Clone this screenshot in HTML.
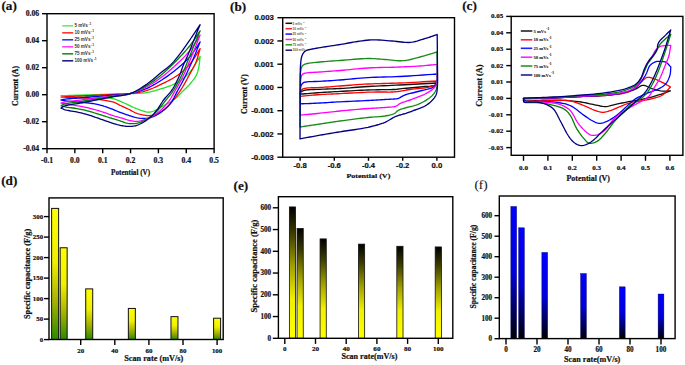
<!DOCTYPE html><html><head><meta charset="utf-8"><style>html,body{margin:0;padding:0;background:#fff;}svg{display:block;}</style></head><body>
<svg width="685" height="365" viewBox="0 0 685 365">
<defs><linearGradient id="gd" x1="0" y1="0" x2="0" y2="1"><stop offset="0" stop-color="#ffff00"/><stop offset="0.4" stop-color="#f0f000"/><stop offset="0.7" stop-color="#a8b400"/><stop offset="1" stop-color="#2a8a00"/></linearGradient><linearGradient id="ge" x1="0" y1="0" x2="0" y2="1"><stop offset="0" stop-color="#000000"/><stop offset="0.2" stop-color="#3c3c00"/><stop offset="0.45" stop-color="#a0a000"/><stop offset="0.7" stop-color="#f0f000"/><stop offset="1" stop-color="#ffff00"/></linearGradient><linearGradient id="gf" x1="0" y1="0" x2="0" y2="1"><stop offset="0" stop-color="#0000ff"/><stop offset="0.5" stop-color="#0000dd"/><stop offset="1" stop-color="#000000"/></linearGradient></defs>
<rect width="685" height="365" fill="#fff"/>
<text x="1.40" y="9.70" font-size="13.20" text-anchor="start" font-family='"Liberation Serif", serif' font-weight="bold" fill="#111" stroke="#111" stroke-width="0.20">(a)</text>
<line x1="42.00" y1="13.70" x2="47.00" y2="13.70" stroke="#000" stroke-width="1.40"/>
<text x="39.20" y="16.30" font-size="7.70" text-anchor="end" font-family='"Liberation Serif", serif' font-weight="bold" fill="#111" stroke="#111" stroke-width="0.20">0.06</text>
<line x1="42.00" y1="40.70" x2="47.00" y2="40.70" stroke="#000" stroke-width="1.40"/>
<text x="39.20" y="43.30" font-size="7.70" text-anchor="end" font-family='"Liberation Serif", serif' font-weight="bold" fill="#111" stroke="#111" stroke-width="0.20">0.04</text>
<line x1="42.00" y1="67.70" x2="47.00" y2="67.70" stroke="#000" stroke-width="1.40"/>
<text x="39.20" y="70.30" font-size="7.70" text-anchor="end" font-family='"Liberation Serif", serif' font-weight="bold" fill="#111" stroke="#111" stroke-width="0.20">0.02</text>
<line x1="42.00" y1="94.70" x2="47.00" y2="94.70" stroke="#000" stroke-width="1.40"/>
<text x="39.20" y="97.30" font-size="7.70" text-anchor="end" font-family='"Liberation Serif", serif' font-weight="bold" fill="#111" stroke="#111" stroke-width="0.20">0.00</text>
<line x1="42.00" y1="121.70" x2="47.00" y2="121.70" stroke="#000" stroke-width="1.40"/>
<text x="39.20" y="124.30" font-size="7.70" text-anchor="end" font-family='"Liberation Serif", serif' font-weight="bold" fill="#111" stroke="#111" stroke-width="0.20">-0.02</text>
<line x1="42.00" y1="148.70" x2="47.00" y2="148.70" stroke="#000" stroke-width="1.40"/>
<text x="39.20" y="151.30" font-size="7.70" text-anchor="end" font-family='"Liberation Serif", serif' font-weight="bold" fill="#111" stroke="#111" stroke-width="0.20">-0.04</text>
<line x1="47.00" y1="148.70" x2="47.00" y2="153.30" stroke="#000" stroke-width="1.40"/>
<text x="47.00" y="163.10" font-size="7.70" text-anchor="middle" font-family='"Liberation Serif", serif' font-weight="bold" fill="#111" stroke="#111" stroke-width="0.20">-0.1</text>
<line x1="74.85" y1="148.70" x2="74.85" y2="153.30" stroke="#000" stroke-width="1.40"/>
<text x="74.85" y="163.10" font-size="7.70" text-anchor="middle" font-family='"Liberation Serif", serif' font-weight="bold" fill="#111" stroke="#111" stroke-width="0.20">0.0</text>
<line x1="102.70" y1="148.70" x2="102.70" y2="153.30" stroke="#000" stroke-width="1.40"/>
<text x="102.70" y="163.10" font-size="7.70" text-anchor="middle" font-family='"Liberation Serif", serif' font-weight="bold" fill="#111" stroke="#111" stroke-width="0.20">0.1</text>
<line x1="130.55" y1="148.70" x2="130.55" y2="153.30" stroke="#000" stroke-width="1.40"/>
<text x="130.55" y="163.10" font-size="7.70" text-anchor="middle" font-family='"Liberation Serif", serif' font-weight="bold" fill="#111" stroke="#111" stroke-width="0.20">0.2</text>
<line x1="158.40" y1="148.70" x2="158.40" y2="153.30" stroke="#000" stroke-width="1.40"/>
<text x="158.40" y="163.10" font-size="7.70" text-anchor="middle" font-family='"Liberation Serif", serif' font-weight="bold" fill="#111" stroke="#111" stroke-width="0.20">0.3</text>
<line x1="186.25" y1="148.70" x2="186.25" y2="153.30" stroke="#000" stroke-width="1.40"/>
<text x="186.25" y="163.10" font-size="7.70" text-anchor="middle" font-family='"Liberation Serif", serif' font-weight="bold" fill="#111" stroke="#111" stroke-width="0.20">0.4</text>
<line x1="214.10" y1="148.70" x2="214.10" y2="153.30" stroke="#000" stroke-width="1.40"/>
<text x="214.10" y="163.10" font-size="7.70" text-anchor="middle" font-family='"Liberation Serif", serif' font-weight="bold" fill="#111" stroke="#111" stroke-width="0.20">0.5</text>
<text x="130.60" y="174.70" font-size="7.40" text-anchor="middle" font-family='"Liberation Serif", serif' font-weight="bold" fill="#111" textLength="39.00" lengthAdjust="spacingAndGlyphs" stroke="#111" stroke-width="0.20">Potential (V)</text>
<text transform="translate(17.80,86.00) rotate(-90)" x="0" y="0" font-size="7.60" text-anchor="middle" font-family='"Liberation Serif", serif' font-weight="bold" fill="#111" textLength="40.00" lengthAdjust="spacingAndGlyphs" stroke="#111" stroke-width="0.20">Current (A)</text>
<path d="M61.00,95.60 L61.36,95.60 L61.69,95.60 L62.02,95.61 L62.35,95.61 L62.70,95.61 L63.08,95.61 L63.51,95.61 L64.00,95.60 L65.39,95.57 L67.11,95.53 L69.07,95.47 L71.21,95.40 L73.44,95.33 L75.70,95.25 L77.91,95.18 L80.00,95.12 L82.00,95.05 L83.99,94.99 L85.98,94.93 L87.97,94.87 L89.96,94.81 L91.97,94.75 L93.98,94.69 L96.00,94.63 L98.10,94.57 L100.21,94.50 L102.34,94.44 L104.47,94.37 L106.60,94.31 L108.74,94.24 L110.87,94.18 L113.00,94.12 L115.13,94.05 L117.28,93.99 L119.42,93.94 L121.57,93.88 L123.70,93.82 L125.83,93.75 L127.93,93.68 L130.00,93.60 L131.92,93.53 L133.81,93.49 L135.67,93.45 L137.53,93.41 L139.38,93.33 L141.24,93.22 L143.11,93.04 L145.00,92.80 L147.03,92.46 L149.07,92.06 L151.12,91.61 L153.18,91.10 L155.25,90.55 L157.31,89.96 L159.36,89.34 L161.40,88.70 L163.51,88.02 L165.66,87.32 L167.82,86.59 L169.96,85.82 L172.07,85.00 L174.13,84.11 L176.11,83.15 L178.00,82.10 L179.68,81.05 L181.30,79.94 L182.87,78.77 L184.38,77.54 L185.84,76.25 L187.26,74.90 L188.65,73.48 L190.00,72.00 L191.41,70.28 L192.74,68.44 L194.01,66.50 L195.24,64.50 L196.45,62.46 L197.65,60.41 L198.86,58.38 L200.10,56.40 L199.97,57.60 L199.86,58.81 L199.76,60.02 L199.65,61.23 L199.53,62.43 L199.38,63.63 L199.21,64.82 L199.00,66.00 L198.77,67.15 L198.53,68.30 L198.27,69.44 L197.99,70.57 L197.67,71.69 L197.31,72.81 L196.89,73.91 L196.40,75.00 L195.78,76.18 L195.07,77.36 L194.29,78.53 L193.46,79.69 L192.60,80.83 L191.72,81.93 L190.85,82.99 L190.00,84.00 L189.28,84.83 L188.56,85.59 L187.85,86.32 L187.12,87.02 L186.38,87.73 L185.62,88.44 L184.83,89.20 L184.00,90.00 L182.89,91.12 L181.73,92.33 L180.53,93.60 L179.29,94.89 L178.02,96.17 L176.71,97.42 L175.37,98.61 L174.00,99.70 L172.58,100.70 L171.08,101.64 L169.53,102.53 L167.95,103.38 L166.39,104.20 L164.85,104.98 L163.38,105.75 L162.00,106.50 L160.97,107.09 L159.99,107.68 L159.03,108.27 L158.10,108.83 L157.19,109.36 L156.29,109.86 L155.39,110.31 L154.50,110.70 L153.76,110.99 L153.02,111.26 L152.29,111.51 L151.57,111.72 L150.85,111.90 L150.15,112.05 L149.47,112.15 L148.80,112.20 L148.27,112.21 L147.76,112.18 L147.27,112.11 L146.79,112.03 L146.31,111.92 L145.80,111.79 L145.27,111.65 L144.70,111.50 L143.79,111.25 L142.82,110.95 L141.78,110.61 L140.71,110.24 L139.62,109.84 L138.53,109.43 L137.45,109.01 L136.40,108.60 L135.37,108.17 L134.34,107.73 L133.31,107.27 L132.29,106.80 L131.27,106.32 L130.25,105.84 L129.22,105.37 L128.20,104.90 L127.17,104.43 L126.14,103.95 L125.11,103.47 L124.07,102.99 L123.04,102.52 L122.02,102.06 L121.01,101.62 L120.00,101.20 L119.10,100.83 L118.23,100.47 L117.38,100.12 L116.52,99.78 L115.65,99.45 L114.75,99.15 L113.81,98.86 L112.80,98.60 L111.39,98.30 L109.90,98.04 L108.33,97.82 L106.71,97.62 L105.05,97.45 L103.37,97.29 L101.68,97.15 L100.00,97.00 L98.18,96.85 L96.34,96.72 L94.47,96.61 L92.58,96.51 L90.68,96.43 L88.78,96.35 L86.88,96.27 L85.00,96.20 L83.10,96.13 L81.16,96.07 L79.21,96.01 L77.26,95.97 L75.35,95.92 L73.48,95.88 L71.69,95.84 L70.00,95.80 L68.77,95.77 L67.59,95.74 L66.46,95.72 L65.36,95.69 L64.27,95.67 L63.20,95.65 L62.11,95.62 L61.00,95.60Z" fill="none" stroke="#22e022" stroke-width="1.30" stroke-linejoin="round" stroke-linecap="round"/>
<path d="M61.00,97.10 L61.36,97.06 L61.69,97.03 L62.02,96.99 L62.35,96.95 L62.70,96.91 L63.08,96.88 L63.51,96.84 L64.00,96.80 L65.39,96.71 L67.11,96.61 L69.07,96.52 L71.21,96.42 L73.44,96.32 L75.70,96.22 L77.91,96.12 L80.00,96.02 L82.00,95.93 L83.99,95.83 L85.98,95.73 L87.97,95.64 L89.96,95.54 L91.97,95.44 L93.98,95.35 L96.00,95.25 L98.10,95.15 L100.21,95.04 L102.34,94.94 L104.47,94.84 L106.60,94.73 L108.74,94.63 L110.87,94.53 L113.00,94.42 L115.13,94.33 L117.28,94.26 L119.43,94.20 L121.57,94.14 L123.71,94.05 L125.83,93.95 L127.93,93.80 L130.00,93.60 L131.92,93.38 L133.82,93.16 L135.69,92.91 L137.55,92.63 L139.41,92.31 L141.26,91.94 L143.12,91.51 L145.00,91.00 L147.04,90.36 L149.09,89.64 L151.15,88.84 L153.21,87.99 L155.27,87.08 L157.32,86.14 L159.36,85.18 L161.40,84.20 L163.52,83.17 L165.66,82.12 L167.82,81.03 L169.96,79.91 L172.07,78.75 L174.12,77.55 L176.11,76.30 L178.00,75.00 L179.67,73.76 L181.29,72.50 L182.84,71.20 L184.35,69.86 L185.82,68.48 L187.25,67.04 L188.64,65.55 L190.00,64.00 L191.39,62.26 L192.72,60.42 L193.99,58.50 L195.22,56.54 L196.43,54.54 L197.64,52.54 L198.86,50.55 L200.10,48.60 L199.60,50.28 L199.13,51.97 L198.67,53.65 L198.20,55.34 L197.72,57.02 L197.20,58.70 L196.63,60.36 L196.00,62.00 L195.29,63.66 L194.52,65.30 L193.70,66.93 L192.84,68.55 L191.96,70.16 L191.07,71.78 L190.18,73.39 L189.30,75.00 L188.42,76.65 L187.52,78.31 L186.62,79.97 L185.71,81.64 L184.79,83.28 L183.87,84.90 L182.94,86.47 L182.00,88.00 L181.15,89.34 L180.30,90.64 L179.45,91.91 L178.59,93.16 L177.72,94.39 L176.83,95.61 L175.93,96.81 L175.00,98.00 L174.06,99.19 L173.11,100.37 L172.14,101.54 L171.15,102.70 L170.15,103.83 L169.12,104.93 L168.07,105.99 L167.00,107.00 L165.94,107.94 L164.85,108.88 L163.74,109.78 L162.61,110.65 L161.47,111.48 L160.32,112.23 L159.16,112.91 L158.00,113.50 L156.96,113.95 L155.88,114.34 L154.79,114.67 L153.69,114.95 L152.61,115.18 L151.56,115.37 L150.55,115.50 L149.60,115.60 L148.94,115.64 L148.32,115.64 L147.73,115.62 L147.15,115.57 L146.57,115.50 L145.98,115.41 L145.36,115.31 L144.70,115.20 L143.76,115.04 L142.76,114.86 L141.72,114.66 L140.66,114.43 L139.58,114.17 L138.50,113.88 L137.43,113.56 L136.40,113.20 L135.36,112.78 L134.32,112.29 L133.30,111.76 L132.28,111.21 L131.26,110.64 L130.25,110.07 L129.23,109.52 L128.20,109.00 L127.17,108.51 L126.13,108.04 L125.08,107.57 L124.03,107.11 L122.99,106.65 L121.97,106.20 L120.97,105.75 L120.00,105.30 L119.19,104.90 L118.43,104.48 L117.69,104.07 L116.96,103.66 L116.22,103.26 L115.46,102.88 L114.66,102.52 L113.80,102.20 L112.67,101.85 L111.49,101.55 L110.25,101.28 L108.98,101.05 L107.66,100.83 L106.32,100.62 L104.97,100.41 L103.60,100.20 L102.00,99.95 L100.36,99.71 L98.68,99.48 L96.97,99.26 L95.24,99.05 L93.50,98.85 L91.75,98.67 L90.00,98.50 L88.16,98.34 L86.29,98.20 L84.41,98.08 L82.52,97.97 L80.62,97.87 L78.73,97.78 L76.86,97.69 L75.00,97.60 L73.23,97.52 L71.47,97.45 L69.72,97.39 L67.97,97.33 L66.23,97.27 L64.49,97.22 L62.75,97.16 L61.00,97.10Z" fill="none" stroke="#ff0000" stroke-width="1.30" stroke-linejoin="round" stroke-linecap="round"/>
<path d="M61.00,100.00 L61.36,99.91 L61.69,99.82 L62.02,99.73 L62.35,99.65 L62.70,99.56 L63.08,99.47 L63.51,99.38 L64.00,99.30 L65.39,99.11 L67.11,98.93 L69.07,98.76 L71.20,98.59 L73.44,98.42 L75.70,98.26 L77.91,98.09 L80.00,97.92 L82.00,97.75 L83.99,97.57 L85.98,97.40 L87.97,97.23 L89.96,97.06 L91.97,96.88 L93.98,96.71 L96.00,96.54 L98.10,96.35 L100.21,96.17 L102.34,95.99 L104.47,95.81 L106.60,95.62 L108.74,95.44 L110.87,95.25 L113.00,95.07 L115.13,94.91 L117.28,94.78 L119.43,94.66 L121.58,94.53 L123.72,94.38 L125.85,94.19 L127.94,93.94 L130.00,93.60 L131.93,93.22 L133.84,92.79 L135.72,92.33 L137.58,91.81 L139.43,91.25 L141.28,90.63 L143.13,89.94 L145.00,89.20 L147.05,88.30 L149.11,87.32 L151.18,86.26 L153.24,85.13 L155.29,83.95 L157.34,82.73 L159.38,81.48 L161.40,80.20 L163.53,78.81 L165.67,77.36 L167.82,75.86 L169.95,74.32 L172.05,72.75 L174.10,71.16 L176.09,69.57 L178.00,68.00 L179.65,66.60 L181.25,65.22 L182.80,63.84 L184.31,62.44 L185.78,61.02 L187.22,59.57 L188.62,58.06 L190.00,56.50 L191.37,54.81 L192.69,53.04 L193.96,51.23 L195.20,49.37 L196.42,47.50 L197.63,45.61 L198.85,43.74 L200.10,41.90 L199.35,43.78 L198.60,45.65 L197.87,47.51 L197.12,49.38 L196.38,51.25 L195.61,53.14 L194.82,55.06 L194.00,57.00 L193.06,59.19 L192.09,61.44 L191.09,63.73 L190.07,66.03 L189.03,68.32 L187.99,70.60 L186.94,72.83 L185.90,75.00 L184.94,76.95 L183.97,78.87 L183.00,80.75 L182.02,82.62 L181.03,84.46 L180.03,86.30 L179.02,88.15 L178.00,90.00 L176.98,91.91 L175.98,93.85 L174.98,95.81 L173.96,97.76 L172.91,99.66 L171.79,101.51 L170.60,103.26 L169.30,104.90 L167.94,106.38 L166.46,107.82 L164.90,109.20 L163.30,110.51 L161.67,111.73 L160.06,112.87 L158.49,113.89 L157.00,114.80 L155.92,115.40 L154.83,115.95 L153.75,116.44 L152.68,116.87 L151.65,117.25 L150.65,117.58 L149.69,117.87 L148.80,118.10 L148.24,118.23 L147.72,118.32 L147.24,118.40 L146.76,118.44 L146.29,118.47 L145.80,118.49 L145.27,118.50 L144.70,118.50 L143.80,118.49 L142.82,118.45 L141.79,118.39 L140.72,118.30 L139.62,118.19 L138.53,118.05 L137.45,117.89 L136.40,117.70 L135.36,117.47 L134.33,117.20 L133.31,116.90 L132.28,116.58 L131.26,116.24 L130.24,115.89 L129.22,115.54 L128.20,115.20 L127.18,114.86 L126.17,114.52 L125.18,114.18 L124.17,113.83 L123.16,113.47 L122.14,113.09 L121.08,112.70 L120.00,112.30 L118.67,111.78 L117.29,111.23 L115.87,110.64 L114.43,110.05 L112.98,109.45 L111.53,108.87 L110.10,108.31 L108.70,107.80 L107.42,107.35 L106.15,106.92 L104.89,106.50 L103.64,106.10 L102.38,105.71 L101.13,105.35 L99.87,105.01 L98.60,104.70 L97.33,104.42 L96.06,104.16 L94.79,103.92 L93.51,103.71 L92.23,103.51 L90.96,103.33 L89.68,103.16 L88.40,103.00 L87.14,102.86 L85.88,102.74 L84.62,102.64 L83.36,102.56 L82.09,102.48 L80.83,102.39 L79.57,102.30 L78.30,102.20 L77.00,102.09 L75.68,101.98 L74.36,101.86 L73.03,101.74 L71.72,101.62 L70.43,101.49 L69.19,101.35 L68.00,101.20 L67.06,101.07 L66.15,100.92 L65.27,100.77 L64.41,100.62 L63.56,100.46 L62.72,100.31 L61.87,100.15 L61.00,100.00Z" fill="none" stroke="#0000ff" stroke-width="1.30" stroke-linejoin="round" stroke-linecap="round"/>
<path d="M61.00,103.20 L61.36,103.06 L61.69,102.92 L62.01,102.78 L62.34,102.64 L62.69,102.50 L63.07,102.37 L63.50,102.23 L64.00,102.10 L65.39,101.82 L67.10,101.54 L69.06,101.29 L71.20,101.03 L73.44,100.79 L75.70,100.54 L77.91,100.29 L80.00,100.04 L82.00,99.78 L83.99,99.53 L85.98,99.27 L87.97,99.01 L89.96,98.76 L91.97,98.50 L93.98,98.24 L96.00,97.98 L98.10,97.71 L100.21,97.44 L102.34,97.16 L104.47,96.89 L106.60,96.61 L108.74,96.34 L110.87,96.06 L113.00,95.79 L115.14,95.54 L117.29,95.33 L119.44,95.14 L121.60,94.94 L123.74,94.70 L125.86,94.42 L127.95,94.06 L130.00,93.60 L131.94,93.07 L133.85,92.49 L135.73,91.85 L137.60,91.15 L139.45,90.40 L141.29,89.59 L143.14,88.72 L145.00,87.80 L147.06,86.71 L149.12,85.55 L151.19,84.31 L153.25,83.00 L155.31,81.64 L157.35,80.23 L159.39,78.78 L161.40,77.30 L163.54,75.67 L165.68,73.95 L167.83,72.16 L169.96,70.34 L172.05,68.49 L174.10,66.63 L176.09,64.80 L178.00,63.00 L179.64,61.44 L181.23,59.92 L182.79,58.41 L184.30,56.89 L185.77,55.36 L187.21,53.79 L188.62,52.18 L190.00,50.50 L191.37,48.69 L192.69,46.81 L193.96,44.88 L195.20,42.91 L196.42,40.93 L197.63,38.94 L198.85,36.96 L200.10,35.00 L199.22,37.24 L198.36,39.46 L197.49,41.68 L196.63,43.89 L195.76,46.13 L194.87,48.38 L193.95,50.67 L193.00,53.00 L191.90,55.68 L190.77,58.44 L189.61,61.27 L188.43,64.11 L187.23,66.94 L186.02,69.72 L184.81,72.42 L183.60,75.00 L182.54,77.17 L181.46,79.29 L180.37,81.37 L179.27,83.40 L178.18,85.39 L177.10,87.31 L176.04,89.19 L175.00,91.00 L174.18,92.44 L173.41,93.83 L172.67,95.17 L171.92,96.48 L171.15,97.76 L170.34,99.04 L169.47,100.31 L168.50,101.60 L167.29,103.11 L166.00,104.65 L164.63,106.19 L163.20,107.72 L161.71,109.21 L160.18,110.64 L158.60,111.97 L157.00,113.20 L155.35,114.31 L153.58,115.37 L151.74,116.37 L149.87,117.30 L148.02,118.14 L146.23,118.90 L144.54,119.55 L143.00,120.10 L142.08,120.40 L141.22,120.66 L140.41,120.88 L139.62,121.06 L138.84,121.20 L138.05,121.30 L137.25,121.37 L136.40,121.40 L135.41,121.38 L134.37,121.30 L133.31,121.16 L132.24,120.98 L131.18,120.78 L130.14,120.55 L129.14,120.32 L128.20,120.10 L127.49,119.92 L126.82,119.72 L126.18,119.51 L125.56,119.30 L124.94,119.08 L124.30,118.85 L123.62,118.63 L122.90,118.40 L121.88,118.11 L120.81,117.82 L119.69,117.52 L118.53,117.22 L117.35,116.91 L116.16,116.59 L114.97,116.25 L113.80,115.90 L112.55,115.49 L111.28,115.05 L110.01,114.60 L108.73,114.12 L107.45,113.65 L106.16,113.18 L104.88,112.73 L103.60,112.30 L102.34,111.90 L101.08,111.50 L99.82,111.11 L98.56,110.74 L97.29,110.37 L96.03,110.00 L94.77,109.65 L93.50,109.30 L92.24,108.96 L90.98,108.62 L89.72,108.29 L88.46,107.96 L87.20,107.65 L85.94,107.35 L84.67,107.07 L83.40,106.80 L82.14,106.56 L80.88,106.34 L79.62,106.14 L78.37,105.96 L77.10,105.78 L75.82,105.59 L74.52,105.40 L73.20,105.20 L71.73,104.96 L70.23,104.72 L68.70,104.47 L67.17,104.22 L65.62,103.96 L64.08,103.71 L62.53,103.45 L61.00,103.20Z" fill="none" stroke="#ff00ff" stroke-width="1.30" stroke-linejoin="round" stroke-linecap="round"/>
<path d="M61.00,105.70 L61.36,105.51 L61.69,105.32 L62.01,105.13 L62.33,104.94 L62.68,104.75 L63.06,104.56 L63.50,104.38 L64.00,104.20 L65.38,103.83 L67.09,103.49 L69.05,103.16 L71.19,102.85 L73.43,102.55 L75.70,102.25 L77.91,101.94 L80.00,101.63 L82.00,101.31 L83.99,100.99 L85.98,100.67 L87.97,100.35 L89.96,100.03 L91.97,99.71 L93.98,99.39 L96.00,99.06 L98.10,98.72 L100.21,98.38 L102.34,98.04 L104.47,97.70 L106.60,97.36 L108.74,97.01 L110.87,96.67 L113.00,96.33 L115.14,96.02 L117.29,95.75 L119.45,95.50 L121.61,95.24 L123.75,94.95 L125.87,94.60 L127.96,94.15 L130.00,93.60 L131.96,92.95 L133.87,92.23 L135.75,91.44 L137.61,90.59 L139.46,89.67 L141.30,88.70 L143.14,87.67 L145.00,86.60 L147.06,85.35 L149.13,84.02 L151.20,82.62 L153.26,81.15 L155.32,79.63 L157.36,78.06 L159.39,76.44 L161.40,74.80 L163.54,72.98 L165.69,71.07 L167.83,69.09 L169.96,67.07 L172.05,65.03 L174.10,62.98 L176.09,60.97 L178.00,59.00 L179.64,57.30 L181.22,55.62 L182.77,53.96 L184.27,52.30 L185.75,50.63 L187.19,48.95 L188.60,47.24 L190.00,45.50 L191.35,43.73 L192.65,41.94 L193.92,40.11 L195.16,38.28 L196.39,36.43 L197.62,34.58 L198.85,32.73 L200.10,30.90 L199.22,33.01 L198.36,35.08 L197.51,37.14 L196.65,39.21 L195.78,41.30 L194.89,43.45 L193.96,45.68 L193.00,48.00 L191.72,51.13 L190.38,54.50 L188.98,58.01 L187.55,61.59 L186.11,65.16 L184.65,68.64 L183.21,71.94 L181.80,75.00 L180.70,77.26 L179.60,79.45 L178.50,81.57 L177.40,83.62 L176.30,85.58 L175.20,87.47 L174.10,89.28 L173.00,91.00 L172.14,92.27 L171.30,93.44 L170.46,94.54 L169.62,95.60 L168.77,96.64 L167.89,97.71 L166.97,98.82 L166.00,100.00 L164.72,101.61 L163.39,103.34 L162.01,105.14 L160.58,106.96 L159.11,108.77 L157.60,110.51 L156.06,112.13 L154.50,113.60 L153.02,114.82 L151.46,115.99 L149.84,117.10 L148.21,118.14 L146.59,119.10 L145.03,119.97 L143.56,120.74 L142.20,121.40 L141.40,121.77 L140.66,122.09 L139.95,122.37 L139.27,122.61 L138.59,122.82 L137.89,123.00 L137.17,123.16 L136.40,123.30 L135.45,123.44 L134.47,123.55 L133.46,123.62 L132.42,123.66 L131.37,123.66 L130.31,123.61 L129.25,123.53 L128.20,123.40 L127.06,123.19 L125.91,122.90 L124.76,122.55 L123.60,122.15 L122.44,121.73 L121.26,121.30 L120.09,120.89 L118.90,120.50 L117.65,120.12 L116.38,119.73 L115.11,119.35 L113.83,118.96 L112.54,118.57 L111.26,118.18 L109.98,117.79 L108.70,117.40 L107.43,117.00 L106.17,116.61 L104.91,116.20 L103.65,115.80 L102.39,115.40 L101.13,114.99 L99.87,114.60 L98.60,114.20 L97.33,113.80 L96.06,113.40 L94.78,113.00 L93.51,112.59 L92.23,112.20 L90.95,111.82 L89.68,111.45 L88.40,111.10 L87.15,110.77 L85.91,110.46 L84.68,110.16 L83.44,109.87 L82.19,109.59 L80.93,109.32 L79.63,109.06 L78.30,108.80 L76.69,108.52 L74.95,108.25 L73.15,108.00 L71.34,107.76 L69.58,107.52 L67.91,107.28 L66.40,107.04 L65.10,106.80 L64.47,106.66 L63.91,106.52 L63.39,106.39 L62.90,106.25 L62.43,106.11 L61.97,105.97 L61.50,105.84 L61.00,105.70Z" fill="none" stroke="#008000" stroke-width="1.30" stroke-linejoin="round" stroke-linecap="round"/>
<path d="M61.00,108.10 L61.36,107.86 L61.68,107.62 L62.00,107.37 L62.32,107.13 L62.67,106.89 L63.05,106.65 L63.49,106.42 L64.00,106.20 L65.38,105.75 L67.08,105.34 L69.04,104.95 L71.18,104.59 L73.43,104.23 L75.69,103.88 L77.91,103.52 L80.00,103.15 L82.00,102.76 L83.99,102.38 L85.98,102.00 L87.97,101.62 L89.96,101.24 L91.97,100.86 L93.98,100.48 L96.00,100.09 L98.10,99.69 L100.21,99.29 L102.34,98.88 L104.47,98.47 L106.60,98.07 L108.74,97.66 L110.87,97.25 L113.00,96.85 L115.14,96.47 L117.29,96.15 L119.46,95.85 L121.62,95.54 L123.77,95.18 L125.88,94.76 L127.97,94.25 L130.00,93.60 L131.97,92.84 L133.89,91.98 L135.77,91.04 L137.63,90.02 L139.47,88.94 L141.31,87.81 L143.15,86.62 L145.00,85.40 L147.09,83.94 L149.22,82.35 L151.36,80.65 L153.49,78.91 L155.58,77.16 L157.61,75.45 L159.56,73.81 L161.40,72.30 L162.74,71.24 L164.01,70.27 L165.24,69.34 L166.43,68.43 L167.60,67.52 L168.76,66.56 L169.92,65.53 L171.10,64.40 L172.52,62.92 L173.95,61.32 L175.38,59.62 L176.79,57.87 L178.19,56.08 L179.57,54.29 L180.90,52.52 L182.20,50.80 L183.35,49.26 L184.46,47.72 L185.53,46.20 L186.59,44.68 L187.63,43.16 L188.67,41.62 L189.73,40.07 L190.80,38.50 L191.95,36.82 L193.11,35.11 L194.27,33.39 L195.43,31.65 L196.60,29.91 L197.77,28.17 L198.94,26.43 L200.10,24.70 L199.72,25.64 L199.34,26.56 L198.97,27.47 L198.59,28.38 L198.21,29.31 L197.82,30.27 L197.42,31.26 L197.00,32.30 L196.44,33.70 L195.85,35.19 L195.25,36.73 L194.62,38.31 L193.99,39.92 L193.36,41.53 L192.73,43.13 L192.10,44.70 L191.48,46.26 L190.85,47.84 L190.21,49.44 L189.58,51.03 L188.94,52.59 L188.32,54.12 L187.70,55.59 L187.10,57.00 L186.62,58.08 L186.14,59.10 L185.67,60.09 L185.21,61.05 L184.75,62.00 L184.29,62.97 L183.84,63.96 L183.40,65.00 L182.93,66.18 L182.50,67.37 L182.08,68.58 L181.66,69.81 L181.23,71.07 L180.77,72.35 L180.26,73.66 L179.70,75.00 L178.91,76.77 L178.06,78.65 L177.15,80.60 L176.18,82.57 L175.18,84.54 L174.14,86.46 L173.08,88.29 L172.00,90.00 L171.01,91.39 L169.97,92.70 L168.89,93.95 L167.80,95.16 L166.71,96.35 L165.63,97.54 L164.59,98.75 L163.60,100.00 L162.71,101.24 L161.85,102.51 L161.03,103.80 L160.22,105.08 L159.42,106.35 L158.62,107.59 L157.82,108.78 L157.00,109.90 L156.30,110.81 L155.60,111.68 L154.91,112.53 L154.22,113.35 L153.52,114.14 L152.80,114.92 L152.06,115.67 L151.30,116.40 L150.53,117.10 L149.75,117.77 L148.95,118.42 L148.14,119.05 L147.31,119.66 L146.46,120.26 L145.59,120.84 L144.70,121.40 L143.73,121.99 L142.72,122.59 L141.68,123.17 L140.63,123.73 L139.57,124.26 L138.50,124.73 L137.44,125.15 L136.40,125.50 L135.48,125.75 L134.56,125.95 L133.65,126.11 L132.74,126.23 L131.83,126.31 L130.90,126.36 L129.96,126.39 L129.00,126.40 L127.92,126.38 L126.83,126.32 L125.73,126.23 L124.61,126.10 L123.48,125.94 L122.33,125.75 L121.17,125.54 L120.00,125.30 L118.64,124.99 L117.24,124.62 L115.81,124.20 L114.37,123.76 L112.93,123.30 L111.50,122.82 L110.09,122.35 L108.70,121.90 L107.41,121.47 L106.13,121.04 L104.87,120.61 L103.61,120.17 L102.36,119.72 L101.11,119.28 L99.86,118.84 L98.60,118.40 L97.33,117.96 L96.06,117.50 L94.78,117.05 L93.51,116.60 L92.23,116.15 L90.96,115.71 L89.68,115.30 L88.40,114.90 L87.15,114.53 L85.91,114.18 L84.68,113.85 L83.44,113.52 L82.20,113.21 L80.93,112.90 L79.63,112.60 L78.30,112.30 L76.69,111.97 L74.95,111.65 L73.15,111.35 L71.33,111.06 L69.57,110.76 L67.90,110.45 L66.39,110.14 L65.10,109.80 L64.47,109.60 L63.90,109.39 L63.38,109.18 L62.89,108.96 L62.43,108.75 L61.97,108.53 L61.50,108.31 L61.00,108.10Z" fill="none" stroke="#000080" stroke-width="1.30" stroke-linejoin="round" stroke-linecap="round"/>
<line x1="62.20" y1="25.80" x2="73.20" y2="25.80" stroke="#66ee66" stroke-width="1.60"/>
<text x="74.40" y="27.40" font-size="4.60" text-anchor="start" font-family='"Liberation Sans", sans-serif' font-weight="bold" fill="#333">5 mVs<tspan font-size="3.2" dx="0.6" dy="-2.4">-1</tspan></text>
<line x1="62.20" y1="32.80" x2="73.20" y2="32.80" stroke="#ff3333" stroke-width="1.60"/>
<text x="74.40" y="34.40" font-size="4.60" text-anchor="start" font-family='"Liberation Sans", sans-serif' font-weight="bold" fill="#333">10 mVs<tspan font-size="3.2" dx="0.6" dy="-2.4">-1</tspan></text>
<line x1="62.20" y1="39.80" x2="73.20" y2="39.80" stroke="#3333ff" stroke-width="1.60"/>
<text x="74.40" y="41.40" font-size="4.60" text-anchor="start" font-family='"Liberation Sans", sans-serif' font-weight="bold" fill="#333">25 mVs<tspan font-size="3.2" dx="0.6" dy="-2.4">-1</tspan></text>
<line x1="62.20" y1="46.80" x2="73.20" y2="46.80" stroke="#ff44ff" stroke-width="1.60"/>
<text x="74.40" y="48.40" font-size="4.60" text-anchor="start" font-family='"Liberation Sans", sans-serif' font-weight="bold" fill="#333">50 mVs<tspan font-size="3.2" dx="0.6" dy="-2.4">-1</tspan></text>
<line x1="62.20" y1="53.80" x2="73.20" y2="53.80" stroke="#228b22" stroke-width="1.60"/>
<text x="74.40" y="55.40" font-size="4.60" text-anchor="start" font-family='"Liberation Sans", sans-serif' font-weight="bold" fill="#333">75 mVs<tspan font-size="3.2" dx="0.6" dy="-2.4">-1</tspan></text>
<line x1="62.20" y1="60.80" x2="73.20" y2="60.80" stroke="#202080" stroke-width="1.60"/>
<text x="74.40" y="62.40" font-size="4.60" text-anchor="start" font-family='"Liberation Sans", sans-serif' font-weight="bold" fill="#333">100 mVs<tspan font-size="3.2" dx="0.6" dy="-2.4">-1</tspan></text>
<rect x="47.00" y="13.70" width="167.10" height="135.00" fill="none" stroke="#000" stroke-width="1.40"/>
<text x="230.00" y="11.10" font-size="13.20" text-anchor="start" font-family='"Liberation Serif", serif' font-weight="bold" fill="#111" stroke="#111" stroke-width="0.20">(b)</text>
<line x1="277.40" y1="17.70" x2="282.70" y2="17.70" stroke="#000" stroke-width="1.40"/>
<text x="273.80" y="20.30" font-size="7.30" text-anchor="end" font-family='"Liberation Sans", sans-serif' font-weight="bold" fill="#111" textLength="19.40" lengthAdjust="spacingAndGlyphs" stroke="#111" stroke-width="0.20">0.003</text>
<line x1="277.40" y1="40.95" x2="282.70" y2="40.95" stroke="#000" stroke-width="1.40"/>
<text x="273.80" y="43.55" font-size="7.30" text-anchor="end" font-family='"Liberation Sans", sans-serif' font-weight="bold" fill="#111" textLength="19.40" lengthAdjust="spacingAndGlyphs" stroke="#111" stroke-width="0.20">0.002</text>
<line x1="277.40" y1="64.20" x2="282.70" y2="64.20" stroke="#000" stroke-width="1.40"/>
<text x="273.80" y="66.80" font-size="7.30" text-anchor="end" font-family='"Liberation Sans", sans-serif' font-weight="bold" fill="#111" textLength="19.40" lengthAdjust="spacingAndGlyphs" stroke="#111" stroke-width="0.20">0.001</text>
<line x1="277.40" y1="87.45" x2="282.70" y2="87.45" stroke="#000" stroke-width="1.40"/>
<text x="273.80" y="90.05" font-size="7.30" text-anchor="end" font-family='"Liberation Sans", sans-serif' font-weight="bold" fill="#111" textLength="19.40" lengthAdjust="spacingAndGlyphs" stroke="#111" stroke-width="0.20">0.000</text>
<line x1="277.40" y1="110.70" x2="282.70" y2="110.70" stroke="#000" stroke-width="1.40"/>
<text x="273.80" y="113.30" font-size="7.30" text-anchor="end" font-family='"Liberation Sans", sans-serif' font-weight="bold" fill="#111" textLength="22.60" lengthAdjust="spacingAndGlyphs" stroke="#111" stroke-width="0.20">-0.001</text>
<line x1="277.40" y1="133.95" x2="282.70" y2="133.95" stroke="#000" stroke-width="1.40"/>
<text x="273.80" y="136.55" font-size="7.30" text-anchor="end" font-family='"Liberation Sans", sans-serif' font-weight="bold" fill="#111" textLength="22.60" lengthAdjust="spacingAndGlyphs" stroke="#111" stroke-width="0.20">-0.002</text>
<line x1="277.40" y1="157.20" x2="282.70" y2="157.20" stroke="#000" stroke-width="1.40"/>
<text x="273.80" y="159.80" font-size="7.30" text-anchor="end" font-family='"Liberation Sans", sans-serif' font-weight="bold" fill="#111" textLength="22.60" lengthAdjust="spacingAndGlyphs" stroke="#111" stroke-width="0.20">-0.003</text>
<line x1="300.10" y1="157.20" x2="300.10" y2="160.80" stroke="#000" stroke-width="1.40"/>
<text x="300.10" y="167.60" font-size="7.30" text-anchor="middle" font-family='"Liberation Sans", sans-serif' font-weight="bold" fill="#111" textLength="13.20" lengthAdjust="spacingAndGlyphs" stroke="#111" stroke-width="0.20">-0.8</text>
<line x1="334.30" y1="157.20" x2="334.30" y2="160.80" stroke="#000" stroke-width="1.40"/>
<text x="334.30" y="167.60" font-size="7.30" text-anchor="middle" font-family='"Liberation Sans", sans-serif' font-weight="bold" fill="#111" textLength="13.20" lengthAdjust="spacingAndGlyphs" stroke="#111" stroke-width="0.20">-0.6</text>
<line x1="368.50" y1="157.20" x2="368.50" y2="160.80" stroke="#000" stroke-width="1.40"/>
<text x="368.50" y="167.60" font-size="7.30" text-anchor="middle" font-family='"Liberation Sans", sans-serif' font-weight="bold" fill="#111" textLength="13.20" lengthAdjust="spacingAndGlyphs" stroke="#111" stroke-width="0.20">-0.4</text>
<line x1="402.70" y1="157.20" x2="402.70" y2="160.80" stroke="#000" stroke-width="1.40"/>
<text x="402.70" y="167.60" font-size="7.30" text-anchor="middle" font-family='"Liberation Sans", sans-serif' font-weight="bold" fill="#111" textLength="13.20" lengthAdjust="spacingAndGlyphs" stroke="#111" stroke-width="0.20">-0.2</text>
<line x1="436.90" y1="157.20" x2="436.90" y2="160.80" stroke="#000" stroke-width="1.40"/>
<text x="436.90" y="167.60" font-size="7.30" text-anchor="middle" font-family='"Liberation Sans", sans-serif' font-weight="bold" fill="#111" textLength="10.80" lengthAdjust="spacingAndGlyphs" stroke="#111" stroke-width="0.20">0.0</text>
<text x="368.40" y="178.30" font-size="7.00" text-anchor="middle" font-family='"Liberation Serif", serif' font-weight="bold" fill="#111" textLength="43.90" lengthAdjust="spacingAndGlyphs" stroke="#111" stroke-width="0.20">Potential (V)</text>
<text transform="translate(247.30,94.10) rotate(-90)" x="0" y="0" font-size="7.40" text-anchor="middle" font-family='"Liberation Serif", serif' font-weight="bold" fill="#111" textLength="39.80" lengthAdjust="spacingAndGlyphs" stroke="#111" stroke-width="0.20">Current (V)</text>
<path d="M300.00,94.20 L300.12,93.92 L300.23,93.63 L300.33,93.33 L300.43,93.04 L300.55,92.75 L300.68,92.48 L300.82,92.23 L301.00,92.00 L301.20,91.80 L301.42,91.62 L301.65,91.46 L301.90,91.31 L302.16,91.17 L302.44,91.04 L302.72,90.92 L303.00,90.80 L303.32,90.67 L303.64,90.55 L303.97,90.44 L304.31,90.34 L304.67,90.25 L305.07,90.16 L305.51,90.08 L306.00,90.00 L307.24,89.85 L308.71,89.73 L310.38,89.64 L312.20,89.56 L314.11,89.50 L316.08,89.44 L318.06,89.38 L320.00,89.30 L322.31,89.20 L324.67,89.12 L327.09,89.03 L329.57,88.95 L332.10,88.86 L334.68,88.76 L337.32,88.64 L340.00,88.50 L343.26,88.30 L346.63,88.07 L350.07,87.81 L353.59,87.54 L357.16,87.26 L360.76,86.99 L364.38,86.73 L368.00,86.50 L371.88,86.28 L375.79,86.09 L379.74,85.90 L383.72,85.73 L387.74,85.56 L391.79,85.38 L395.87,85.20 L400.00,85.00 L404.50,84.77 L409.06,84.53 L413.68,84.28 L418.33,84.03 L423.01,83.77 L427.69,83.51 L432.36,83.25 L437.00,83.00 L437.02,83.19 L437.05,83.38 L437.10,83.58 L437.14,83.77 L437.17,83.96 L437.16,84.15 L437.11,84.33 L437.00,84.50 L436.14,85.01 L434.63,85.42 L432.61,85.76 L430.23,86.05 L427.63,86.30 L424.97,86.52 L422.37,86.75 L420.00,87.00 L417.48,87.27 L414.76,87.53 L411.95,87.77 L409.15,88.00 L406.45,88.21 L403.96,88.42 L401.78,88.61 L400.00,88.80 L399.37,88.88 L398.83,88.97 L398.36,89.05 L397.93,89.13 L397.51,89.21 L397.07,89.28 L396.58,89.34 L396.00,89.40 L394.90,89.47 L393.69,89.52 L392.38,89.54 L390.99,89.55 L389.54,89.56 L388.05,89.57 L386.53,89.58 L385.00,89.60 L383.08,89.64 L381.11,89.67 L379.08,89.71 L376.99,89.75 L374.85,89.80 L372.63,89.85 L370.35,89.92 L368.00,90.00 L364.80,90.13 L361.38,90.28 L357.80,90.45 L354.14,90.64 L350.46,90.83 L346.83,91.03 L343.32,91.22 L340.00,91.40 L337.34,91.55 L334.76,91.69 L332.25,91.83 L329.79,91.97 L327.35,92.12 L324.92,92.27 L322.48,92.43 L320.00,92.60 L317.50,92.78 L315.00,92.97 L312.50,93.17 L310.00,93.38 L307.50,93.58 L305.00,93.79 L302.50,94.00 L300.00,94.20Z" fill="none" stroke="#111111" stroke-width="1.35" stroke-linejoin="round" stroke-linecap="round"/>
<path d="M300.00,96.30 L300.07,95.75 L300.12,95.19 L300.17,94.63 L300.22,94.07 L300.28,93.51 L300.36,92.98 L300.47,92.47 L300.60,92.00 L300.73,91.64 L300.86,91.28 L301.00,90.94 L301.16,90.61 L301.34,90.30 L301.53,90.01 L301.75,89.74 L302.00,89.50 L302.28,89.27 L302.58,89.08 L302.90,88.92 L303.25,88.77 L303.62,88.65 L304.04,88.53 L304.49,88.41 L305.00,88.30 L306.30,88.09 L307.88,87.94 L309.68,87.84 L311.64,87.78 L313.71,87.73 L315.83,87.68 L317.94,87.61 L320.00,87.50 L322.34,87.34 L324.72,87.17 L327.14,86.99 L329.61,86.80 L332.13,86.60 L334.70,86.40 L337.32,86.20 L340.00,86.00 L343.26,85.75 L346.62,85.49 L350.07,85.22 L353.59,84.95 L357.15,84.69 L360.76,84.43 L364.38,84.20 L368.00,84.00 L371.88,83.82 L375.79,83.69 L379.74,83.58 L383.72,83.48 L387.74,83.38 L391.79,83.28 L395.87,83.16 L400.00,83.00 L404.50,82.80 L409.06,82.57 L413.68,82.32 L418.33,82.06 L423.01,81.79 L427.69,81.52 L432.36,81.26 L437.00,81.00 L437.02,81.32 L437.07,81.64 L437.13,81.96 L437.18,82.28 L437.21,82.60 L437.20,82.91 L437.14,83.21 L437.00,83.50 L436.58,83.99 L435.97,84.45 L435.21,84.89 L434.32,85.32 L433.32,85.72 L432.25,86.10 L431.13,86.46 L430.00,86.80 L427.98,87.29 L425.64,87.71 L423.06,88.06 L420.35,88.36 L417.60,88.64 L414.89,88.91 L412.33,89.19 L410.00,89.50 L408.32,89.76 L406.69,90.04 L405.10,90.32 L403.55,90.60 L402.07,90.86 L400.64,91.11 L399.28,91.32 L398.00,91.50 L397.17,91.60 L396.41,91.69 L395.69,91.76 L395.00,91.82 L394.31,91.88 L393.60,91.92 L392.84,91.96 L392.00,92.00 L390.70,92.04 L389.29,92.05 L387.80,92.05 L386.26,92.04 L384.68,92.02 L383.10,92.01 L381.53,92.00 L380.00,92.00 L378.53,92.01 L377.12,92.02 L375.72,92.04 L374.31,92.05 L372.87,92.07 L371.35,92.11 L369.74,92.15 L368.00,92.20 L365.03,92.31 L361.71,92.46 L358.15,92.64 L354.44,92.83 L350.67,93.03 L346.94,93.24 L343.35,93.43 L340.00,93.60 L337.34,93.73 L334.76,93.85 L332.25,93.96 L329.79,94.07 L327.35,94.18 L324.92,94.30 L322.48,94.44 L320.00,94.60 L317.50,94.78 L315.00,94.98 L312.50,95.19 L310.00,95.41 L307.50,95.63 L305.00,95.86 L302.50,96.08 L300.00,96.30Z" fill="none" stroke="#ff0000" stroke-width="1.35" stroke-linejoin="round" stroke-linecap="round"/>
<path d="M300.00,103.90 L300.04,102.10 L300.08,100.23 L300.11,98.32 L300.14,96.42 L300.18,94.60 L300.23,92.88 L300.31,91.33 L300.40,90.00 L300.45,89.38 L300.49,88.81 L300.54,88.28 L300.59,87.79 L300.65,87.33 L300.73,86.88 L300.85,86.44 L301.00,86.00 L301.17,85.58 L301.37,85.15 L301.59,84.73 L301.84,84.33 L302.10,83.95 L302.38,83.59 L302.68,83.27 L303.00,83.00 L303.31,82.79 L303.62,82.62 L303.94,82.48 L304.28,82.36 L304.65,82.27 L305.06,82.18 L305.51,82.09 L306.00,82.00 L307.23,81.82 L308.71,81.70 L310.38,81.61 L312.19,81.55 L314.11,81.50 L316.08,81.46 L318.06,81.39 L320.00,81.30 L322.31,81.17 L324.67,81.03 L327.09,80.88 L329.57,80.72 L332.10,80.56 L334.68,80.38 L337.32,80.20 L340.00,80.00 L343.26,79.74 L346.63,79.43 L350.07,79.11 L353.59,78.78 L357.15,78.44 L360.76,78.13 L364.38,77.84 L368.00,77.60 L371.88,77.40 L375.79,77.25 L379.74,77.13 L383.72,77.03 L387.74,76.93 L391.79,76.82 L395.88,76.68 L400.00,76.50 L404.50,76.25 L409.06,75.97 L413.68,75.66 L418.33,75.34 L423.01,75.00 L427.69,74.66 L432.36,74.32 L437.00,74.00 L437.02,74.75 L437.06,75.50 L437.12,76.25 L437.16,77.00 L437.19,77.75 L437.18,78.50 L437.13,79.25 L437.00,80.00 L436.81,80.83 L436.60,81.69 L436.35,82.56 L436.04,83.43 L435.67,84.27 L435.21,85.07 L434.66,85.82 L434.00,86.50 L432.80,87.34 L431.32,88.04 L429.61,88.63 L427.75,89.14 L425.80,89.61 L423.81,90.05 L421.86,90.50 L420.00,91.00 L418.11,91.52 L416.15,92.02 L414.16,92.50 L412.16,92.97 L410.21,93.45 L408.34,93.94 L406.59,94.45 L405.00,95.00 L403.97,95.43 L403.00,95.91 L402.08,96.42 L401.21,96.92 L400.37,97.40 L399.56,97.84 L398.77,98.21 L398.00,98.50 L397.47,98.64 L396.98,98.75 L396.51,98.82 L396.05,98.86 L395.58,98.90 L395.09,98.92 L394.57,98.96 L394.00,99.00 L393.07,99.08 L392.07,99.14 L391.01,99.20 L389.90,99.26 L388.74,99.31 L387.53,99.37 L386.29,99.43 L385.00,99.50 L383.16,99.61 L381.23,99.72 L379.20,99.85 L377.10,99.98 L374.92,100.11 L372.67,100.24 L370.36,100.37 L368.00,100.50 L364.80,100.66 L361.38,100.82 L357.80,100.98 L354.14,101.14 L350.46,101.30 L346.83,101.47 L343.32,101.63 L340.00,101.80 L337.34,101.95 L334.76,102.10 L332.25,102.26 L329.79,102.41 L327.35,102.57 L324.92,102.72 L322.48,102.86 L320.00,103.00 L317.50,103.13 L315.00,103.25 L312.50,103.36 L310.00,103.47 L307.50,103.58 L305.00,103.68 L302.50,103.79 L300.00,103.90Z" fill="none" stroke="#0000ff" stroke-width="1.35" stroke-linejoin="round" stroke-linecap="round"/>
<path d="M300.00,115.20 L300.03,111.98 L300.06,108.66 L300.09,105.30 L300.12,101.96 L300.15,98.70 L300.19,95.58 L300.24,92.66 L300.30,90.00 L300.34,88.37 L300.37,86.80 L300.39,85.30 L300.42,83.87 L300.47,82.52 L300.54,81.25 L300.65,80.08 L300.80,79.00 L300.91,78.38 L301.02,77.80 L301.13,77.24 L301.26,76.72 L301.41,76.24 L301.57,75.79 L301.77,75.37 L302.00,75.00 L302.19,74.74 L302.38,74.52 L302.57,74.31 L302.79,74.13 L303.03,73.96 L303.31,73.81 L303.63,73.65 L304.00,73.50 L305.24,73.15 L306.86,72.89 L308.77,72.69 L310.91,72.53 L313.18,72.41 L315.51,72.29 L317.81,72.16 L320.00,72.00 L322.37,71.81 L324.76,71.63 L327.19,71.45 L329.65,71.27 L332.16,71.10 L334.71,70.91 L337.32,70.71 L340.00,70.50 L343.26,70.21 L346.63,69.89 L350.07,69.55 L353.59,69.20 L357.15,68.86 L360.76,68.54 L364.38,68.25 L368.00,68.00 L371.95,67.79 L376.02,67.64 L380.17,67.51 L384.33,67.41 L388.45,67.32 L392.48,67.23 L396.34,67.13 L400.00,67.00 L402.74,66.89 L405.37,66.78 L407.92,66.67 L410.40,66.56 L412.83,66.44 L415.23,66.31 L417.61,66.16 L420.00,66.00 L422.19,65.83 L424.35,65.65 L426.48,65.45 L428.59,65.24 L430.69,65.03 L432.78,64.82 L434.88,64.60 L437.00,64.40 L437.02,65.74 L437.04,67.08 L437.06,68.44 L437.08,69.79 L437.10,71.13 L437.11,72.45 L437.11,73.75 L437.10,75.00 L437.10,76.07 L437.13,77.13 L437.16,78.18 L437.18,79.21 L437.17,80.22 L437.11,81.19 L437.00,82.12 L436.80,83.00 L436.58,83.71 L436.34,84.38 L436.06,85.02 L435.74,85.63 L435.38,86.24 L434.98,86.83 L434.52,87.41 L434.00,88.00 L433.18,88.80 L432.24,89.59 L431.19,90.37 L430.06,91.12 L428.85,91.87 L427.60,92.59 L426.31,93.30 L425.00,94.00 L423.32,94.83 L421.49,95.65 L419.57,96.44 L417.59,97.21 L415.60,97.95 L413.65,98.66 L411.76,99.35 L410.00,100.00 L408.62,100.49 L407.25,100.95 L405.90,101.38 L404.58,101.79 L403.31,102.20 L402.11,102.61 L401.00,103.04 L400.00,103.50 L399.41,103.83 L398.90,104.19 L398.45,104.56 L398.02,104.92 L397.59,105.28 L397.13,105.62 L396.61,105.93 L396.00,106.20 L394.93,106.53 L393.73,106.77 L392.42,106.95 L391.02,107.09 L389.56,107.19 L388.06,107.28 L386.53,107.38 L385.00,107.50 L383.08,107.65 L381.11,107.78 L379.08,107.89 L376.99,107.99 L374.85,108.09 L372.63,108.21 L370.35,108.34 L368.00,108.50 L364.80,108.75 L361.38,109.03 L357.80,109.33 L354.14,109.66 L350.46,109.99 L346.83,110.34 L343.32,110.67 L340.00,111.00 L337.34,111.27 L334.76,111.55 L332.25,111.83 L329.79,112.11 L327.35,112.39 L324.92,112.66 L322.48,112.93 L320.00,113.20 L317.50,113.46 L315.00,113.71 L312.50,113.96 L310.00,114.21 L307.50,114.46 L305.00,114.70 L302.50,114.95 L300.00,115.20Z" fill="none" stroke="#ff00ff" stroke-width="1.35" stroke-linejoin="round" stroke-linecap="round"/>
<path d="M300.00,127.00 L300.02,122.96 L300.04,118.88 L300.06,114.77 L300.08,110.67 L300.10,106.61 L300.13,102.63 L300.16,98.75 L300.20,95.00 L300.22,91.83 L300.21,88.61 L300.19,85.40 L300.18,82.27 L300.20,79.29 L300.27,76.54 L300.39,74.09 L300.60,72.00 L300.72,71.10 L300.84,70.28 L300.97,69.52 L301.12,68.82 L301.29,68.17 L301.48,67.57 L301.72,67.02 L302.00,66.50 L302.23,66.14 L302.47,65.81 L302.72,65.52 L302.99,65.25 L303.29,65.00 L303.64,64.76 L304.04,64.53 L304.50,64.30 L305.76,63.84 L307.36,63.47 L309.21,63.15 L311.26,62.88 L313.43,62.65 L315.66,62.43 L317.87,62.22 L320.00,62.00 L322.35,61.76 L324.74,61.55 L327.16,61.36 L329.63,61.19 L332.14,61.02 L334.70,60.86 L337.32,60.69 L340.00,60.50 L343.32,60.24 L346.83,59.93 L350.46,59.61 L354.14,59.28 L357.80,58.99 L361.38,58.75 L364.80,58.57 L368.00,58.50 L370.32,58.52 L372.53,58.59 L374.66,58.70 L376.73,58.85 L378.77,59.01 L380.81,59.19 L382.88,59.35 L385.00,59.50 L387.23,59.68 L389.48,59.91 L391.74,60.16 L394.01,60.40 L396.28,60.61 L398.54,60.75 L400.78,60.79 L403.00,60.70 L405.16,60.48 L407.30,60.14 L409.43,59.72 L411.55,59.23 L413.67,58.69 L415.78,58.13 L417.89,57.56 L420.00,57.00 L422.13,56.44 L424.26,55.84 L426.39,55.22 L428.51,54.58 L430.63,53.93 L432.75,53.28 L434.88,52.63 L437.00,52.00 L437.03,54.26 L437.06,56.52 L437.09,58.80 L437.13,61.07 L437.16,63.33 L437.18,65.57 L437.20,67.80 L437.20,70.00 L437.22,72.10 L437.26,74.25 L437.31,76.42 L437.35,78.55 L437.36,80.62 L437.32,82.58 L437.20,84.39 L437.00,86.00 L436.84,86.91 L436.66,87.74 L436.47,88.52 L436.25,89.25 L436.00,89.95 L435.71,90.64 L435.38,91.31 L435.00,92.00 L434.54,92.74 L434.04,93.46 L433.49,94.15 L432.89,94.84 L432.25,95.51 L431.55,96.17 L430.80,96.84 L430.00,97.50 L428.75,98.44 L427.34,99.40 L425.82,100.37 L424.20,101.32 L422.52,102.23 L420.82,103.09 L419.14,103.89 L417.50,104.60 L415.94,105.18 L414.33,105.68 L412.69,106.12 L411.06,106.51 L409.44,106.88 L407.88,107.23 L406.39,107.60 L405.00,108.00 L404.00,108.31 L403.03,108.60 L402.09,108.88 L401.19,109.16 L400.32,109.46 L399.50,109.77 L398.72,110.12 L398.00,110.50 L397.49,110.84 L397.06,111.21 L396.67,111.60 L396.29,112.01 L395.91,112.41 L395.51,112.80 L395.04,113.17 L394.50,113.50 L393.58,113.93 L392.56,114.31 L391.45,114.65 L390.26,114.96 L389.01,115.25 L387.70,115.51 L386.36,115.76 L385.00,116.00 L383.15,116.28 L381.21,116.49 L379.18,116.67 L377.08,116.81 L374.90,116.95 L372.66,117.10 L370.36,117.28 L368.00,117.50 L364.80,117.85 L361.37,118.25 L357.80,118.68 L354.14,119.14 L350.46,119.61 L346.83,120.08 L343.32,120.55 L340.00,121.00 L337.34,121.37 L334.76,121.75 L332.25,122.12 L329.79,122.50 L327.35,122.87 L324.92,123.25 L322.48,123.62 L320.00,124.00 L317.50,124.38 L315.00,124.75 L312.50,125.12 L310.00,125.50 L307.50,125.88 L305.00,126.25 L302.50,126.62 L300.00,127.00Z" fill="none" stroke="#1a8c1a" stroke-width="1.35" stroke-linejoin="round" stroke-linecap="round"/>
<path d="M300.00,138.80 L300.02,133.93 L300.05,129.04 L300.07,124.14 L300.09,119.24 L300.12,114.36 L300.14,109.52 L300.17,104.73 L300.20,100.00 L300.22,95.49 L300.21,90.81 L300.21,86.09 L300.20,81.44 L300.22,76.99 L300.26,72.85 L300.35,69.15 L300.50,66.00 L300.59,64.64 L300.67,63.40 L300.76,62.26 L300.86,61.20 L300.98,60.21 L301.12,59.27 L301.29,58.38 L301.50,57.50 L301.67,56.87 L301.85,56.27 L302.05,55.69 L302.26,55.15 L302.48,54.62 L302.73,54.12 L303.00,53.65 L303.30,53.20 L303.58,52.82 L303.85,52.47 L304.14,52.14 L304.44,51.83 L304.78,51.54 L305.16,51.25 L305.60,50.97 L306.10,50.70 L307.31,50.19 L308.79,49.74 L310.49,49.34 L312.36,48.97 L314.33,48.63 L316.36,48.29 L318.41,47.95 L320.40,47.60 L322.82,47.17 L325.38,46.75 L328.04,46.34 L330.74,45.94 L333.43,45.55 L336.05,45.16 L338.56,44.78 L340.90,44.40 L342.57,44.11 L344.14,43.83 L345.63,43.54 L347.09,43.27 L348.54,42.99 L350.02,42.72 L351.56,42.46 L353.20,42.20 L355.31,41.87 L357.51,41.52 L359.78,41.16 L362.10,40.82 L364.46,40.50 L366.84,40.24 L369.23,40.03 L371.60,39.90 L374.10,39.86 L376.65,39.91 L379.22,40.03 L381.80,40.20 L384.38,40.40 L386.95,40.61 L389.49,40.82 L392.00,41.00 L394.37,41.20 L396.76,41.46 L399.14,41.75 L401.50,42.03 L403.83,42.27 L406.10,42.44 L408.29,42.49 L410.40,42.40 L412.09,42.20 L413.74,41.89 L415.35,41.51 L416.92,41.08 L418.44,40.62 L419.92,40.15 L421.34,39.71 L422.70,39.30 L423.71,39.01 L424.67,38.72 L425.59,38.44 L426.48,38.16 L427.36,37.87 L428.23,37.59 L429.11,37.30 L430.00,37.00 L430.90,36.70 L431.81,36.39 L432.71,36.08 L433.61,35.76 L434.50,35.45 L435.40,35.13 L436.30,34.81 L437.20,34.50 L437.23,37.68 L437.26,40.85 L437.29,44.01 L437.32,47.18 L437.35,50.35 L437.37,53.54 L437.39,56.76 L437.40,60.00 L437.43,63.57 L437.47,67.35 L437.53,71.23 L437.58,75.09 L437.59,78.82 L437.56,82.29 L437.47,85.39 L437.30,88.00 L437.20,89.11 L437.10,90.12 L437.00,91.04 L436.88,91.89 L436.73,92.69 L436.54,93.46 L436.30,94.22 L436.00,95.00 L435.64,95.76 L435.24,96.48 L434.78,97.19 L434.29,97.87 L433.76,98.54 L433.20,99.20 L432.61,99.85 L432.00,100.50 L431.26,101.24 L430.48,101.98 L429.65,102.70 L428.79,103.41 L427.88,104.10 L426.95,104.77 L425.99,105.40 L425.00,106.00 L423.86,106.61 L422.66,107.16 L421.41,107.68 L420.12,108.17 L418.82,108.63 L417.52,109.09 L416.24,109.54 L415.00,110.00 L413.84,110.44 L412.68,110.89 L411.52,111.33 L410.37,111.76 L409.23,112.18 L408.12,112.58 L407.04,112.95 L406.00,113.30 L405.19,113.55 L404.41,113.78 L403.65,113.98 L402.91,114.18 L402.18,114.37 L401.45,114.57 L400.73,114.78 L400.00,115.00 L399.31,115.22 L398.63,115.44 L397.97,115.65 L397.31,115.88 L396.64,116.12 L395.96,116.38 L395.24,116.67 L394.50,117.00 L393.45,117.53 L392.37,118.14 L391.25,118.82 L390.10,119.54 L388.91,120.27 L387.67,120.99 L386.36,121.68 L385.00,122.30 L383.17,123.03 L381.24,123.72 L379.22,124.38 L377.12,125.00 L374.95,125.61 L372.70,126.19 L370.38,126.75 L368.00,127.30 L364.81,127.96 L361.40,128.58 L357.82,129.16 L354.16,129.71 L350.47,130.24 L346.84,130.76 L343.32,131.28 L340.00,131.80 L337.34,132.24 L334.76,132.67 L332.25,133.09 L329.79,133.51 L327.35,133.93 L324.92,134.34 L322.48,134.77 L320.00,135.20 L317.50,135.64 L315.00,136.09 L312.50,136.54 L310.00,136.99 L307.50,137.44 L305.00,137.90 L302.50,138.35 L300.00,138.80Z" fill="none" stroke="#000080" stroke-width="1.35" stroke-linejoin="round" stroke-linecap="round"/>
<line x1="285.50" y1="23.30" x2="292.10" y2="23.30" stroke="#111" stroke-width="1.50"/>
<text x="292.60" y="24.50" font-size="3.20" text-anchor="start" font-family='"Liberation Sans", sans-serif' font-weight="bold" fill="#555">5 mVs<tspan font-size="2.4" dx="0.4" dy="-1.6">-1</tspan></text>
<line x1="285.50" y1="28.68" x2="292.10" y2="28.68" stroke="#ff2222" stroke-width="1.50"/>
<text x="292.60" y="29.88" font-size="3.20" text-anchor="start" font-family='"Liberation Sans", sans-serif' font-weight="bold" fill="#555">10 mVs<tspan font-size="2.4" dx="0.4" dy="-1.6">-1</tspan></text>
<line x1="285.50" y1="34.06" x2="292.10" y2="34.06" stroke="#1111ff" stroke-width="1.50"/>
<text x="292.60" y="35.26" font-size="3.20" text-anchor="start" font-family='"Liberation Sans", sans-serif' font-weight="bold" fill="#555">25 mVs<tspan font-size="2.4" dx="0.4" dy="-1.6">-1</tspan></text>
<line x1="285.50" y1="39.44" x2="292.10" y2="39.44" stroke="#ff22ff" stroke-width="1.50"/>
<text x="292.60" y="40.64" font-size="3.20" text-anchor="start" font-family='"Liberation Sans", sans-serif' font-weight="bold" fill="#555">50 mVs<tspan font-size="2.4" dx="0.4" dy="-1.6">-1</tspan></text>
<line x1="285.50" y1="44.82" x2="292.10" y2="44.82" stroke="#229922" stroke-width="1.50"/>
<text x="292.60" y="46.02" font-size="3.20" text-anchor="start" font-family='"Liberation Sans", sans-serif' font-weight="bold" fill="#555">75 mVs<tspan font-size="2.4" dx="0.4" dy="-1.6">-1</tspan></text>
<line x1="285.50" y1="50.20" x2="292.10" y2="50.20" stroke="#111188" stroke-width="1.50"/>
<text x="292.60" y="51.40" font-size="3.20" text-anchor="start" font-family='"Liberation Sans", sans-serif' font-weight="bold" fill="#555">100 mVs<tspan font-size="2.4" dx="0.4" dy="-1.6">-1</tspan></text>
<rect x="282.70" y="17.70" width="171.80" height="139.50" fill="none" stroke="#000" stroke-width="1.40"/>
<text x="462.20" y="10.40" font-size="13.20" text-anchor="start" font-family='"Liberation Serif", serif' font-weight="bold" fill="#111" stroke="#111" stroke-width="0.20">(c)</text>
<line x1="506.20" y1="16.40" x2="511.20" y2="16.40" stroke="#000" stroke-width="1.40"/>
<text x="503.20" y="18.30" font-size="7.00" text-anchor="end" font-family='"Liberation Serif", serif' font-weight="bold" fill="#111" stroke="#111" stroke-width="0.20">0.05</text>
<line x1="506.20" y1="32.80" x2="511.20" y2="32.80" stroke="#000" stroke-width="1.40"/>
<text x="503.20" y="34.70" font-size="7.00" text-anchor="end" font-family='"Liberation Serif", serif' font-weight="bold" fill="#111" stroke="#111" stroke-width="0.20">0.04</text>
<line x1="506.20" y1="49.20" x2="511.20" y2="49.20" stroke="#000" stroke-width="1.40"/>
<text x="503.20" y="51.10" font-size="7.00" text-anchor="end" font-family='"Liberation Serif", serif' font-weight="bold" fill="#111" stroke="#111" stroke-width="0.20">0.03</text>
<line x1="506.20" y1="65.60" x2="511.20" y2="65.60" stroke="#000" stroke-width="1.40"/>
<text x="503.20" y="67.50" font-size="7.00" text-anchor="end" font-family='"Liberation Serif", serif' font-weight="bold" fill="#111" stroke="#111" stroke-width="0.20">0.02</text>
<line x1="506.20" y1="82.00" x2="511.20" y2="82.00" stroke="#000" stroke-width="1.40"/>
<text x="503.20" y="83.90" font-size="7.00" text-anchor="end" font-family='"Liberation Serif", serif' font-weight="bold" fill="#111" stroke="#111" stroke-width="0.20">0.01</text>
<line x1="506.20" y1="98.40" x2="511.20" y2="98.40" stroke="#000" stroke-width="1.40"/>
<text x="503.20" y="100.30" font-size="7.00" text-anchor="end" font-family='"Liberation Serif", serif' font-weight="bold" fill="#111" stroke="#111" stroke-width="0.20">0.00</text>
<line x1="506.20" y1="114.80" x2="511.20" y2="114.80" stroke="#000" stroke-width="1.40"/>
<text x="503.20" y="116.70" font-size="7.00" text-anchor="end" font-family='"Liberation Serif", serif' font-weight="bold" fill="#111" stroke="#111" stroke-width="0.20">-0.01</text>
<line x1="506.20" y1="131.20" x2="511.20" y2="131.20" stroke="#000" stroke-width="1.40"/>
<text x="503.20" y="133.10" font-size="7.00" text-anchor="end" font-family='"Liberation Serif", serif' font-weight="bold" fill="#111" stroke="#111" stroke-width="0.20">-0.02</text>
<line x1="506.20" y1="147.60" x2="511.20" y2="147.60" stroke="#000" stroke-width="1.40"/>
<text x="503.20" y="149.50" font-size="7.00" text-anchor="end" font-family='"Liberation Serif", serif' font-weight="bold" fill="#111" stroke="#111" stroke-width="0.20">-0.03</text>
<line x1="523.50" y1="155.30" x2="523.50" y2="160.80" stroke="#000" stroke-width="1.40"/>
<text x="523.50" y="170.20" font-size="7.10" text-anchor="middle" font-family='"Liberation Serif", serif' font-weight="bold" fill="#111" stroke="#111" stroke-width="0.20">0.0</text>
<line x1="547.90" y1="155.30" x2="547.90" y2="160.80" stroke="#000" stroke-width="1.40"/>
<text x="547.90" y="170.20" font-size="7.10" text-anchor="middle" font-family='"Liberation Serif", serif' font-weight="bold" fill="#111" stroke="#111" stroke-width="0.20">0.1</text>
<line x1="572.30" y1="155.30" x2="572.30" y2="160.80" stroke="#000" stroke-width="1.40"/>
<text x="572.30" y="170.20" font-size="7.10" text-anchor="middle" font-family='"Liberation Serif", serif' font-weight="bold" fill="#111" stroke="#111" stroke-width="0.20">0.2</text>
<line x1="596.70" y1="155.30" x2="596.70" y2="160.80" stroke="#000" stroke-width="1.40"/>
<text x="596.70" y="170.20" font-size="7.10" text-anchor="middle" font-family='"Liberation Serif", serif' font-weight="bold" fill="#111" stroke="#111" stroke-width="0.20">0.3</text>
<line x1="621.10" y1="155.30" x2="621.10" y2="160.80" stroke="#000" stroke-width="1.40"/>
<text x="621.10" y="170.20" font-size="7.10" text-anchor="middle" font-family='"Liberation Serif", serif' font-weight="bold" fill="#111" stroke="#111" stroke-width="0.20">0.4</text>
<line x1="645.50" y1="155.30" x2="645.50" y2="160.80" stroke="#000" stroke-width="1.40"/>
<text x="645.50" y="170.20" font-size="7.10" text-anchor="middle" font-family='"Liberation Serif", serif' font-weight="bold" fill="#111" stroke="#111" stroke-width="0.20">0.5</text>
<line x1="669.90" y1="155.30" x2="669.90" y2="160.80" stroke="#000" stroke-width="1.40"/>
<text x="669.90" y="170.20" font-size="7.10" text-anchor="middle" font-family='"Liberation Serif", serif' font-weight="bold" fill="#111" stroke="#111" stroke-width="0.20">0.6</text>
<text x="588.20" y="181.30" font-size="7.60" text-anchor="middle" font-family='"Liberation Serif", serif' font-weight="bold" fill="#111" textLength="43.40" lengthAdjust="spacingAndGlyphs" stroke="#111" stroke-width="0.20">Potential (V)</text>
<text transform="translate(482.00,85.60) rotate(-90)" x="0" y="0" font-size="7.30" text-anchor="middle" font-family='"Liberation Serif", serif' font-weight="bold" fill="#111" textLength="42.20" lengthAdjust="spacingAndGlyphs" stroke="#111" stroke-width="0.20">Current (A)</text>
<path d="M523.50,98.60 L526.80,98.56 L530.09,98.53 L533.37,98.50 L536.65,98.47 L539.94,98.43 L543.26,98.38 L546.61,98.30 L550.00,98.20 L553.68,98.06 L557.43,97.88 L561.23,97.67 L565.06,97.45 L568.87,97.22 L572.65,97.00 L576.37,96.79 L580.00,96.60 L583.27,96.46 L586.54,96.34 L589.79,96.23 L592.99,96.13 L596.14,96.01 L599.20,95.88 L602.16,95.71 L605.00,95.50 L607.18,95.31 L609.29,95.12 L611.33,94.92 L613.32,94.71 L615.26,94.46 L617.18,94.19 L619.09,93.87 L621.00,93.50 L622.81,93.11 L624.63,92.68 L626.44,92.21 L628.23,91.71 L629.97,91.19 L631.66,90.65 L633.27,90.08 L634.80,89.50 L635.94,88.97 L637.02,88.34 L638.05,87.66 L639.05,86.99 L640.02,86.37 L640.99,85.85 L641.98,85.47 L643.00,85.30 L644.01,85.35 L645.00,85.59 L646.00,85.97 L647.00,86.45 L648.01,86.97 L649.05,87.51 L650.11,88.00 L651.20,88.40 L652.50,88.80 L653.86,89.21 L655.26,89.62 L656.68,90.01 L658.10,90.37 L659.51,90.68 L660.88,90.93 L662.20,91.10 L663.29,91.18 L664.35,91.19 L665.39,91.16 L666.41,91.10 L667.43,91.02 L668.45,90.93 L669.47,90.85 L670.50,90.80 L669.47,91.17 L668.46,91.55 L667.46,91.92 L666.46,92.30 L665.44,92.67 L664.39,93.04 L663.32,93.42 L662.20,93.80 L660.80,94.26 L659.36,94.74 L657.87,95.21 L656.35,95.69 L654.79,96.16 L653.21,96.63 L651.61,97.07 L650.00,97.50 L648.13,97.96 L646.13,98.42 L644.06,98.88 L641.98,99.31 L639.96,99.72 L638.05,100.10 L636.31,100.43 L634.80,100.70 L634.09,100.82 L633.48,100.91 L632.93,100.98 L632.41,101.05 L631.89,101.11 L631.33,101.19 L630.72,101.28 L630.00,101.40 L628.39,101.70 L626.49,102.08 L624.38,102.52 L622.15,102.99 L619.89,103.48 L617.69,103.96 L615.63,104.41 L613.80,104.80 L612.65,105.07 L611.58,105.36 L610.57,105.65 L609.60,105.93 L608.64,106.18 L607.67,106.38 L606.66,106.53 L605.60,106.60 L604.32,106.58 L603.02,106.46 L601.68,106.26 L600.32,106.00 L598.95,105.70 L597.55,105.39 L596.13,105.08 L594.70,104.80 L593.08,104.48 L591.45,104.13 L589.81,103.76 L588.14,103.38 L586.43,103.00 L584.68,102.64 L582.87,102.30 L581.00,102.00 L578.59,101.68 L576.06,101.38 L573.44,101.11 L570.76,100.87 L568.04,100.65 L565.32,100.47 L562.63,100.32 L560.00,100.20 L557.46,100.12 L554.90,100.09 L552.34,100.10 L549.79,100.13 L547.27,100.17 L544.79,100.22 L542.36,100.27 L540.00,100.30 L537.91,100.37 L535.72,100.51 L533.51,100.68 L531.36,100.83 L529.35,100.94 L527.57,100.94 L526.09,100.81 L525.00,100.50 L524.69,100.32 L524.44,100.10 L524.25,99.87 L524.09,99.62 L523.95,99.36 L523.81,99.10 L523.67,98.85 L523.50,98.60Z" fill="none" stroke="#111111" stroke-width="1.30" stroke-linejoin="round" stroke-linecap="round"/>
<path d="M523.50,98.60 L526.80,98.54 L530.09,98.50 L533.37,98.45 L536.65,98.41 L539.94,98.35 L543.26,98.29 L546.61,98.20 L550.00,98.10 L553.66,97.96 L557.37,97.80 L561.11,97.61 L564.88,97.42 L568.67,97.21 L572.46,97.01 L576.24,96.80 L580.00,96.60 L583.80,96.42 L587.66,96.27 L591.55,96.13 L595.42,95.99 L599.24,95.82 L602.97,95.61 L606.57,95.34 L610.00,95.00 L612.70,94.70 L615.39,94.41 L618.04,94.10 L620.61,93.75 L623.06,93.35 L625.35,92.87 L627.44,92.29 L629.30,91.60 L630.37,91.07 L631.34,90.47 L632.23,89.82 L633.04,89.14 L633.81,88.46 L634.55,87.77 L635.27,87.12 L636.00,86.50 L636.58,86.03 L637.12,85.58 L637.64,85.14 L638.15,84.71 L638.66,84.28 L639.18,83.84 L639.72,83.38 L640.30,82.90 L641.07,82.21 L641.87,81.43 L642.69,80.59 L643.54,79.75 L644.41,78.97 L645.30,78.28 L646.19,77.74 L647.10,77.40 L647.92,77.28 L648.76,77.29 L649.62,77.42 L650.48,77.62 L651.35,77.89 L652.23,78.20 L653.11,78.51 L654.00,78.80 L655.00,79.13 L656.02,79.51 L657.05,79.92 L658.08,80.36 L659.12,80.82 L660.15,81.31 L661.18,81.80 L662.20,82.30 L663.25,82.83 L664.29,83.40 L665.33,83.98 L666.36,84.58 L667.40,85.19 L668.43,85.80 L669.46,86.40 L670.50,87.00 L669.49,88.05 L668.51,89.15 L667.56,90.26 L666.59,91.36 L665.59,92.43 L664.54,93.44 L663.42,94.37 L662.20,95.20 L660.73,95.99 L659.16,96.66 L657.51,97.24 L655.79,97.75 L654.01,98.21 L652.20,98.64 L650.36,99.06 L648.50,99.50 L646.33,99.97 L644.08,100.36 L641.77,100.70 L639.42,101.02 L637.05,101.36 L634.67,101.75 L632.32,102.22 L630.00,102.80 L627.57,103.58 L625.07,104.51 L622.56,105.54 L620.06,106.62 L617.62,107.70 L615.29,108.70 L613.10,109.59 L611.10,110.30 L609.93,110.68 L608.83,111.05 L607.80,111.39 L606.81,111.69 L605.84,111.94 L604.88,112.13 L603.90,112.26 L602.90,112.30 L601.88,112.25 L600.87,112.12 L599.87,111.92 L598.86,111.67 L597.84,111.36 L596.82,111.02 L595.77,110.67 L594.70,110.30 L593.40,109.82 L592.08,109.27 L590.73,108.67 L589.37,108.03 L587.99,107.37 L586.58,106.72 L585.15,106.09 L583.70,105.50 L582.08,104.86 L580.42,104.20 L578.73,103.54 L577.02,102.89 L575.29,102.28 L573.54,101.73 L571.77,101.27 L570.00,100.90 L568.18,100.65 L566.32,100.51 L564.45,100.45 L562.57,100.45 L560.67,100.50 L558.77,100.55 L556.88,100.59 L555.00,100.60 L553.13,100.58 L551.25,100.57 L549.38,100.57 L547.50,100.57 L545.63,100.57 L543.75,100.58 L541.87,100.59 L540.00,100.60 L538.01,100.67 L535.87,100.81 L533.67,101.00 L531.49,101.16 L529.45,101.28 L527.62,101.28 L526.10,101.14 L525.00,100.80 L524.68,100.59 L524.42,100.35 L524.23,100.07 L524.07,99.78 L523.94,99.48 L523.81,99.18 L523.67,98.88 L523.50,98.60Z" fill="none" stroke="#ff0000" stroke-width="1.30" stroke-linejoin="round" stroke-linecap="round"/>
<path d="M523.50,98.50 L526.80,98.44 L530.09,98.40 L533.37,98.35 L536.65,98.31 L539.94,98.25 L543.26,98.19 L546.61,98.10 L550.00,98.00 L553.66,97.86 L557.37,97.70 L561.12,97.52 L564.89,97.32 L568.67,97.12 L572.46,96.91 L576.24,96.70 L580.00,96.50 L583.82,96.31 L587.74,96.14 L591.71,95.97 L595.65,95.79 L599.51,95.60 L603.23,95.38 L606.75,95.12 L610.00,94.80 L612.15,94.56 L614.20,94.31 L616.17,94.05 L618.05,93.77 L619.87,93.46 L621.62,93.12 L623.33,92.73 L625.00,92.30 L626.37,91.91 L627.71,91.50 L629.03,91.08 L630.30,90.62 L631.52,90.13 L632.68,89.60 L633.78,89.03 L634.80,88.40 L635.59,87.83 L636.30,87.22 L636.96,86.59 L637.59,85.92 L638.19,85.23 L638.78,84.51 L639.38,83.77 L640.00,83.00 L640.75,82.07 L641.51,81.10 L642.27,80.08 L643.03,79.04 L643.77,77.97 L644.48,76.88 L645.16,75.79 L645.80,74.70 L646.37,73.58 L646.87,72.38 L647.34,71.15 L647.78,69.92 L648.23,68.72 L648.70,67.59 L649.22,66.57 L649.80,65.70 L650.28,65.15 L650.78,64.65 L651.31,64.20 L651.85,63.79 L652.39,63.43 L652.94,63.09 L653.48,62.78 L654.00,62.50 L654.40,62.29 L654.80,62.11 L655.19,61.94 L655.59,61.80 L655.98,61.67 L656.38,61.56 L656.78,61.47 L657.20,61.40 L657.65,61.35 L658.11,61.32 L658.58,61.32 L659.05,61.34 L659.53,61.37 L660.01,61.41 L660.50,61.46 L661.00,61.50 L661.58,61.54 L662.17,61.56 L662.78,61.59 L663.40,61.63 L664.02,61.69 L664.63,61.80 L665.22,61.97 L665.80,62.20 L666.46,62.59 L667.10,63.08 L667.73,63.65 L668.35,64.29 L668.96,64.95 L669.57,65.63 L670.18,66.28 L670.80,66.90 L670.72,67.91 L670.67,68.93 L670.62,69.95 L670.58,70.96 L670.51,71.98 L670.40,72.99 L670.23,74.00 L670.00,75.00 L669.68,76.10 L669.30,77.22 L668.87,78.35 L668.40,79.47 L667.87,80.57 L667.29,81.62 L666.67,82.60 L666.00,83.50 L665.34,84.26 L664.64,84.95 L663.90,85.58 L663.11,86.18 L662.29,86.75 L661.41,87.30 L660.48,87.84 L659.50,88.40 L658.05,89.14 L656.43,89.83 L654.70,90.50 L652.90,91.14 L651.06,91.79 L649.24,92.44 L647.47,93.10 L645.80,93.80 L644.32,94.46 L642.83,95.13 L641.35,95.81 L639.89,96.49 L638.49,97.19 L637.16,97.89 L635.92,98.59 L634.80,99.30 L634.09,99.80 L633.48,100.28 L632.92,100.76 L632.40,101.24 L631.88,101.75 L631.32,102.28 L630.71,102.86 L630.00,103.50 L628.52,104.82 L626.82,106.38 L624.94,108.10 L622.96,109.91 L620.94,111.72 L618.93,113.46 L617.00,115.04 L615.20,116.40 L613.93,117.29 L612.68,118.12 L611.46,118.91 L610.25,119.63 L609.06,120.30 L607.89,120.90 L606.74,121.44 L605.60,121.90 L604.72,122.23 L603.85,122.53 L602.99,122.79 L602.15,123.02 L601.31,123.19 L600.47,123.29 L599.64,123.34 L598.80,123.30 L597.93,123.17 L597.07,122.95 L596.21,122.64 L595.35,122.28 L594.50,121.87 L593.64,121.43 L592.77,120.96 L591.90,120.50 L590.90,119.95 L589.92,119.35 L588.93,118.72 L587.94,118.05 L586.93,117.35 L585.90,116.62 L584.82,115.87 L583.70,115.10 L582.16,114.00 L580.56,112.76 L578.90,111.44 L577.19,110.09 L575.43,108.77 L573.64,107.53 L571.83,106.42 L570.00,105.50 L568.21,104.79 L566.38,104.21 L564.52,103.73 L562.62,103.34 L560.72,103.01 L558.80,102.72 L556.90,102.46 L555.00,102.20 L553.13,101.97 L551.26,101.80 L549.39,101.66 L547.51,101.57 L545.63,101.49 L543.75,101.43 L541.88,101.37 L540.00,101.30 L538.02,101.28 L535.87,101.36 L533.67,101.47 L531.49,101.58 L529.45,101.63 L527.62,101.59 L526.10,101.39 L525.00,101.00 L524.66,100.76 L524.41,100.48 L524.21,100.17 L524.05,99.84 L523.93,99.50 L523.80,99.16 L523.67,98.82 L523.50,98.50Z" fill="none" stroke="#0000ff" stroke-width="1.30" stroke-linejoin="round" stroke-linecap="round"/>
<path d="M523.50,98.40 L526.80,98.33 L530.09,98.27 L533.37,98.21 L536.65,98.15 L539.94,98.09 L543.26,98.01 L546.61,97.92 L550.00,97.80 L553.66,97.65 L557.37,97.47 L561.12,97.28 L564.88,97.07 L568.67,96.85 L572.46,96.63 L576.24,96.41 L580.00,96.20 L583.80,96.01 L587.68,95.86 L591.59,95.71 L595.49,95.55 L599.32,95.37 L603.05,95.15 L606.62,94.86 L610.00,94.50 L612.52,94.18 L615.00,93.84 L617.40,93.49 L619.73,93.10 L621.96,92.66 L624.09,92.17 L626.11,91.62 L628.00,91.00 L629.34,90.50 L630.61,89.99 L631.83,89.45 L632.99,88.88 L634.09,88.26 L635.12,87.58 L636.09,86.83 L637.00,86.00 L637.82,85.07 L638.55,84.05 L639.21,82.95 L639.81,81.80 L640.37,80.61 L640.91,79.40 L641.45,78.19 L642.00,77.00 L642.57,75.76 L643.12,74.48 L643.66,73.16 L644.18,71.84 L644.68,70.54 L645.17,69.27 L645.64,68.05 L646.10,66.90 L646.43,66.06 L646.74,65.24 L647.02,64.46 L647.30,63.69 L647.59,62.95 L647.90,62.22 L648.23,61.51 L648.60,60.80 L649.00,60.14 L649.44,59.50 L649.91,58.89 L650.39,58.29 L650.87,57.68 L651.36,57.08 L651.84,56.45 L652.30,55.80 L652.77,55.06 L653.22,54.27 L653.67,53.46 L654.11,52.64 L654.56,51.83 L655.02,51.06 L655.50,50.35 L656.00,49.70 L656.43,49.22 L656.85,48.75 L657.29,48.32 L657.73,47.91 L658.19,47.53 L658.67,47.19 L659.17,46.88 L659.70,46.60 L660.29,46.36 L660.92,46.17 L661.57,46.02 L662.24,45.91 L662.93,45.82 L663.62,45.75 L664.31,45.68 L665.00,45.60 L665.71,45.53 L666.43,45.47 L667.15,45.43 L667.88,45.40 L668.61,45.38 L669.34,45.36 L670.07,45.33 L670.80,45.30 L670.70,45.88 L670.60,46.46 L670.51,47.04 L670.41,47.62 L670.31,48.20 L670.21,48.79 L670.11,49.39 L670.00,50.00 L669.88,50.68 L669.78,51.37 L669.67,52.06 L669.56,52.76 L669.44,53.48 L669.29,54.22 L669.12,54.99 L668.90,55.80 L668.52,57.03 L668.06,58.34 L667.54,59.72 L666.97,61.14 L666.37,62.59 L665.77,64.05 L665.17,65.49 L664.60,66.90 L664.05,68.30 L663.50,69.70 L662.96,71.11 L662.41,72.51 L661.85,73.91 L661.26,75.29 L660.65,76.66 L660.00,78.00 L659.32,79.30 L658.60,80.58 L657.85,81.85 L657.08,83.11 L656.30,84.35 L655.53,85.58 L654.75,86.80 L654.00,88.00 L653.34,89.12 L652.73,90.24 L652.14,91.36 L651.55,92.46 L650.91,93.54 L650.21,94.59 L649.42,95.62 L648.50,96.60 L647.14,97.77 L645.59,98.87 L643.88,99.93 L642.07,100.94 L640.20,101.92 L638.34,102.88 L636.52,103.84 L634.80,104.80 L633.28,105.66 L631.76,106.48 L630.26,107.28 L628.76,108.06 L627.29,108.86 L625.83,109.69 L624.40,110.56 L623.00,111.50 L621.60,112.51 L620.20,113.57 L618.83,114.67 L617.47,115.80 L616.15,116.95 L614.88,118.13 L613.66,119.31 L612.50,120.50 L611.53,121.61 L610.63,122.78 L609.78,123.98 L608.97,125.19 L608.16,126.37 L607.35,127.50 L606.50,128.55 L605.60,129.50 L604.80,130.24 L603.98,130.95 L603.14,131.62 L602.30,132.25 L601.44,132.83 L600.57,133.35 L599.69,133.81 L598.80,134.20 L597.96,134.52 L597.09,134.80 L596.21,135.04 L595.32,135.22 L594.43,135.35 L593.56,135.41 L592.71,135.40 L591.90,135.30 L591.17,135.12 L590.46,134.87 L589.78,134.56 L589.11,134.18 L588.44,133.74 L587.78,133.27 L587.10,132.75 L586.40,132.20 L585.40,131.36 L584.38,130.41 L583.34,129.36 L582.29,128.24 L581.24,127.05 L580.20,125.82 L579.19,124.57 L578.20,123.30 L577.15,121.78 L576.16,120.11 L575.20,118.36 L574.25,116.57 L573.29,114.82 L572.27,113.15 L571.19,111.62 L570.00,110.30 L568.89,109.31 L567.72,108.40 L566.51,107.59 L565.26,106.84 L563.97,106.17 L562.66,105.56 L561.34,105.01 L560.00,104.50 L558.65,104.06 L557.29,103.71 L555.92,103.42 L554.52,103.19 L553.08,103.00 L551.61,102.83 L550.08,102.67 L548.50,102.50 L546.33,102.29 L543.95,102.11 L541.44,101.96 L538.90,101.84 L536.39,101.74 L534.02,101.65 L531.86,101.57 L530.00,101.50 L529.05,101.49 L528.12,101.54 L527.24,101.61 L526.41,101.67 L525.65,101.70 L524.99,101.67 L524.43,101.55 L524.00,101.30 L523.79,101.05 L523.66,100.73 L523.59,100.38 L523.56,99.99 L523.55,99.59 L523.55,99.18 L523.54,98.78 L523.50,98.40Z" fill="none" stroke="#ff00ff" stroke-width="1.30" stroke-linejoin="round" stroke-linecap="round"/>
<path d="M523.50,98.30 L526.80,98.21 L530.09,98.12 L533.37,98.04 L536.65,97.96 L539.94,97.87 L543.26,97.77 L546.61,97.65 L550.00,97.50 L553.66,97.32 L557.37,97.11 L561.12,96.88 L564.89,96.63 L568.67,96.37 L572.46,96.11 L576.24,95.85 L580.00,95.60 L583.82,95.37 L587.72,95.16 L591.67,94.96 L595.60,94.75 L599.45,94.52 L603.17,94.24 L606.71,93.91 L610.00,93.50 L612.28,93.16 L614.47,92.81 L616.57,92.43 L618.59,92.03 L620.54,91.59 L622.42,91.11 L624.24,90.58 L626.00,90.00 L627.42,89.49 L628.80,88.98 L630.14,88.45 L631.43,87.88 L632.67,87.27 L633.84,86.59 L634.96,85.84 L636.00,85.00 L636.94,84.08 L637.79,83.07 L638.58,81.99 L639.30,80.85 L639.99,79.67 L640.66,78.45 L641.33,77.23 L642.00,76.00 L642.73,74.60 L643.44,73.10 L644.14,71.53 L644.81,69.95 L645.47,68.41 L646.10,66.95 L646.71,65.63 L647.30,64.50 L647.63,63.93 L647.95,63.42 L648.25,62.96 L648.54,62.54 L648.84,62.12 L649.15,61.70 L649.46,61.27 L649.80,60.80 L650.23,60.21 L650.68,59.60 L651.15,58.98 L651.63,58.35 L652.11,57.71 L652.59,57.07 L653.06,56.43 L653.50,55.80 L653.91,55.20 L654.31,54.60 L654.71,54.00 L655.09,53.40 L655.48,52.79 L655.85,52.18 L656.23,51.55 L656.60,50.90 L656.99,50.16 L657.34,49.40 L657.69,48.61 L658.03,47.81 L658.39,47.01 L658.77,46.22 L659.21,45.45 L659.70,44.70 L660.33,43.89 L661.04,43.09 L661.80,42.30 L662.60,41.52 L663.42,40.76 L664.24,40.02 L665.04,39.30 L665.80,38.60 L666.44,38.01 L667.07,37.44 L667.70,36.88 L668.32,36.34 L668.94,35.81 L669.56,35.28 L670.18,34.74 L670.80,34.20 L670.18,36.13 L669.57,38.03 L668.97,39.93 L668.36,41.84 L667.74,43.76 L667.12,45.70 L666.47,47.68 L665.80,49.70 L665.01,52.08 L664.19,54.55 L663.35,57.09 L662.50,59.65 L661.63,62.20 L660.75,64.70 L659.87,67.11 L659.00,69.40 L658.27,71.25 L657.55,73.04 L656.83,74.79 L656.11,76.49 L655.37,78.16 L654.61,79.80 L653.82,81.41 L653.00,83.00 L652.20,84.48 L651.40,85.95 L650.58,87.40 L649.73,88.83 L648.86,90.21 L647.95,91.54 L647.00,92.81 L646.00,94.00 L645.03,95.03 L644.01,96.01 L642.95,96.93 L641.87,97.82 L640.77,98.66 L639.67,99.46 L638.57,100.24 L637.50,101.00 L636.55,101.63 L635.57,102.21 L634.60,102.74 L633.62,103.26 L632.66,103.78 L631.73,104.31 L630.84,104.88 L630.00,105.50 L629.28,106.12 L628.62,106.75 L628.00,107.41 L627.40,108.08 L626.80,108.78 L626.18,109.50 L625.52,110.24 L624.80,111.00 L623.74,112.06 L622.60,113.16 L621.39,114.30 L620.15,115.48 L618.88,116.69 L617.62,117.93 L616.39,119.20 L615.20,120.50 L613.96,121.96 L612.74,123.51 L611.54,125.12 L610.35,126.75 L609.16,128.38 L607.98,129.96 L606.79,131.48 L605.60,132.90 L604.58,134.08 L603.58,135.26 L602.59,136.41 L601.59,137.53 L600.58,138.58 L599.55,139.54 L598.50,140.39 L597.40,141.10 L596.41,141.63 L595.37,142.12 L594.30,142.55 L593.22,142.90 L592.15,143.16 L591.11,143.31 L590.12,143.33 L589.20,143.20 L588.41,142.93 L587.68,142.51 L586.99,141.98 L586.32,141.36 L585.67,140.66 L585.02,139.92 L584.37,139.16 L583.70,138.40 L582.83,137.40 L581.95,136.33 L581.07,135.19 L580.19,133.99 L579.32,132.74 L578.46,131.46 L577.62,130.14 L576.80,128.80 L575.91,127.18 L575.06,125.41 L574.24,123.56 L573.43,121.68 L572.62,119.83 L571.78,118.06 L570.92,116.43 L570.00,115.00 L569.31,114.06 L568.64,113.19 L567.97,112.39 L567.27,111.64 L566.54,110.93 L565.75,110.27 L564.87,109.62 L563.90,109.00 L562.36,108.19 L560.60,107.45 L558.69,106.77 L556.66,106.16 L554.58,105.60 L552.49,105.09 L550.45,104.63 L548.50,104.20 L546.77,103.86 L545.05,103.56 L543.33,103.32 L541.63,103.11 L539.94,102.94 L538.27,102.78 L536.62,102.64 L535.00,102.50 L533.49,102.44 L531.87,102.48 L530.23,102.57 L528.63,102.65 L527.14,102.69 L525.82,102.62 L524.75,102.41 L524.00,102.00 L523.73,101.66 L523.57,101.25 L523.49,100.80 L523.48,100.31 L523.50,99.80 L523.52,99.28 L523.53,98.78 L523.50,98.30Z" fill="none" stroke="#008000" stroke-width="1.30" stroke-linejoin="round" stroke-linecap="round"/>
<path d="M523.50,98.20 L526.80,98.08 L530.09,97.97 L533.37,97.86 L536.65,97.75 L539.94,97.64 L543.26,97.51 L546.61,97.37 L550.00,97.20 L553.67,97.00 L557.40,96.79 L561.18,96.56 L564.97,96.31 L568.77,96.05 L572.56,95.78 L576.30,95.50 L580.00,95.20 L583.52,94.92 L587.06,94.63 L590.59,94.35 L594.10,94.04 L597.55,93.72 L600.94,93.36 L604.23,92.95 L607.40,92.50 L610.02,92.08 L612.62,91.65 L615.18,91.18 L617.68,90.70 L620.09,90.18 L622.40,89.62 L624.57,89.03 L626.60,88.40 L627.99,87.93 L629.31,87.45 L630.58,86.96 L631.78,86.44 L632.93,85.90 L634.01,85.32 L635.04,84.69 L636.00,84.00 L636.78,83.36 L637.50,82.69 L638.18,81.98 L638.81,81.24 L639.40,80.48 L639.96,79.68 L640.49,78.85 L641.00,78.00 L641.51,77.02 L641.95,75.97 L642.35,74.87 L642.72,73.74 L643.07,72.61 L643.43,71.49 L643.80,70.41 L644.20,69.40 L644.57,68.56 L644.93,67.74 L645.30,66.94 L645.68,66.16 L646.06,65.40 L646.46,64.65 L646.87,63.92 L647.30,63.20 L647.73,62.54 L648.17,61.91 L648.63,61.30 L649.10,60.69 L649.58,60.10 L650.06,59.50 L650.53,58.91 L651.00,58.30 L651.47,57.69 L651.95,57.08 L652.44,56.48 L652.92,55.87 L653.39,55.26 L653.85,54.65 L654.29,54.03 L654.70,53.40 L655.07,52.79 L655.44,52.16 L655.80,51.52 L656.13,50.89 L656.45,50.25 L656.74,49.62 L656.99,49.00 L657.20,48.40 L657.33,47.92 L657.41,47.45 L657.47,46.98 L657.51,46.52 L657.55,46.06 L657.60,45.60 L657.68,45.15 L657.80,44.70 L657.96,44.23 L658.14,43.76 L658.34,43.30 L658.57,42.84 L658.81,42.38 L659.08,41.93 L659.37,41.47 L659.70,41.00 L660.18,40.40 L660.72,39.80 L661.31,39.20 L661.94,38.59 L662.60,37.99 L663.27,37.37 L663.94,36.74 L664.60,36.10 L665.34,35.36 L666.10,34.60 L666.87,33.83 L667.65,33.05 L668.44,32.26 L669.23,31.47 L670.02,30.68 L670.80,29.90 L670.03,32.38 L669.28,34.86 L668.53,37.34 L667.77,39.81 L667.01,42.29 L666.23,44.77 L665.43,47.24 L664.60,49.70 L663.73,52.21 L662.82,54.75 L661.89,57.31 L660.95,59.85 L660.00,62.36 L659.05,64.80 L658.11,67.16 L657.20,69.40 L656.48,71.13 L655.78,72.80 L655.10,74.41 L654.41,75.98 L653.71,77.52 L653.00,79.03 L652.27,80.52 L651.50,82.00 L650.75,83.39 L650.00,84.77 L649.23,86.13 L648.44,87.47 L647.62,88.78 L646.78,90.06 L645.91,91.30 L645.00,92.50 L644.08,93.60 L643.11,94.67 L642.11,95.70 L641.09,96.70 L640.05,97.67 L639.02,98.63 L638.00,99.57 L637.00,100.50 L636.12,101.33 L635.24,102.14 L634.38,102.92 L633.52,103.70 L632.65,104.46 L631.78,105.23 L630.90,106.01 L630.00,106.80 L629.04,107.64 L628.07,108.48 L627.10,109.32 L626.11,110.16 L625.11,111.02 L624.10,111.89 L623.06,112.78 L622.00,113.70 L620.71,114.82 L619.37,115.99 L618.00,117.19 L616.60,118.41 L615.20,119.65 L613.81,120.88 L612.44,122.10 L611.10,123.30 L609.85,124.43 L608.61,125.56 L607.37,126.70 L606.14,127.83 L604.94,128.95 L603.76,130.05 L602.61,131.14 L601.50,132.20 L600.59,133.10 L599.72,133.99 L598.88,134.88 L598.06,135.76 L597.24,136.61 L596.41,137.44 L595.57,138.24 L594.70,139.00 L593.87,139.69 L593.02,140.38 L592.18,141.04 L591.32,141.68 L590.45,142.28 L589.58,142.84 L588.69,143.35 L587.80,143.80 L586.97,144.18 L586.13,144.53 L585.28,144.86 L584.42,145.15 L583.56,145.38 L582.70,145.54 L581.85,145.62 L581.00,145.60 L580.11,145.48 L579.21,145.26 L578.30,144.95 L577.39,144.57 L576.50,144.12 L575.63,143.62 L574.80,143.07 L574.00,142.50 L573.18,141.83 L572.41,141.09 L571.68,140.29 L570.98,139.43 L570.29,138.52 L569.60,137.55 L568.91,136.55 L568.20,135.50 L567.25,134.00 L566.30,132.36 L565.36,130.62 L564.41,128.80 L563.47,126.94 L562.52,125.08 L561.56,123.26 L560.60,121.50 L559.68,119.80 L558.81,118.04 L557.94,116.26 L557.06,114.51 L556.15,112.82 L555.16,111.22 L554.09,109.77 L552.90,108.50 L551.72,107.50 L550.45,106.60 L549.10,105.81 L547.71,105.10 L546.27,104.47 L544.82,103.92 L543.35,103.43 L541.90,103.00 L540.44,102.66 L538.90,102.41 L537.34,102.25 L535.76,102.15 L534.21,102.10 L532.72,102.06 L531.30,102.04 L530.00,102.00 L529.11,102.01 L528.22,102.08 L527.34,102.19 L526.50,102.29 L525.72,102.36 L525.03,102.36 L524.45,102.25 L524.00,102.00 L523.75,101.69 L523.61,101.29 L523.53,100.82 L523.51,100.31 L523.52,99.77 L523.54,99.23 L523.54,98.70 L523.50,98.20Z" fill="none" stroke="#000080" stroke-width="1.30" stroke-linejoin="round" stroke-linecap="round"/>
<line x1="520.80" y1="31.00" x2="532.30" y2="31.00" stroke="#222" stroke-width="1.60"/>
<text x="533.40" y="32.60" font-size="4.70" text-anchor="start" font-family='"Liberation Serif", serif' font-weight="bold" fill="#222" stroke="#222" stroke-width="0.08">5 mVs<tspan font-size="3.6" dx="0.3" dy="-2.4">-1</tspan></text>
<line x1="520.80" y1="39.80" x2="532.30" y2="39.80" stroke="#ff2222" stroke-width="1.60"/>
<text x="533.40" y="41.40" font-size="4.70" text-anchor="start" font-family='"Liberation Serif", serif' font-weight="bold" fill="#222" stroke="#222" stroke-width="0.08">10 mVs<tspan font-size="3.6" dx="0.3" dy="-2.4">-1</tspan></text>
<line x1="520.80" y1="48.30" x2="532.30" y2="48.30" stroke="#2222ff" stroke-width="1.60"/>
<text x="533.40" y="49.90" font-size="4.70" text-anchor="start" font-family='"Liberation Serif", serif' font-weight="bold" fill="#222" stroke="#222" stroke-width="0.08">25 mVs<tspan font-size="3.6" dx="0.3" dy="-2.4">-1</tspan></text>
<line x1="520.80" y1="57.20" x2="532.30" y2="57.20" stroke="#ff22ff" stroke-width="1.60"/>
<text x="533.40" y="58.80" font-size="4.70" text-anchor="start" font-family='"Liberation Serif", serif' font-weight="bold" fill="#222" stroke="#222" stroke-width="0.08">50 mVs<tspan font-size="3.6" dx="0.3" dy="-2.4">-1</tspan></text>
<line x1="520.80" y1="66.00" x2="532.30" y2="66.00" stroke="#229922" stroke-width="1.60"/>
<text x="533.40" y="67.60" font-size="4.70" text-anchor="start" font-family='"Liberation Serif", serif' font-weight="bold" fill="#222" stroke="#222" stroke-width="0.08">75 mVs<tspan font-size="3.6" dx="0.3" dy="-2.4">-1</tspan></text>
<line x1="520.80" y1="75.00" x2="532.30" y2="75.00" stroke="#222288" stroke-width="1.60"/>
<text x="533.40" y="76.60" font-size="4.70" text-anchor="start" font-family='"Liberation Serif", serif' font-weight="bold" fill="#222" stroke="#222" stroke-width="0.08">100 mVs<tspan font-size="3.6" dx="0.3" dy="-2.4">-1</tspan></text>
<rect x="511.20" y="16.40" width="171.70" height="138.90" fill="none" stroke="#000" stroke-width="1.40"/>
<text x="1.20" y="185.30" font-size="13.20" text-anchor="start" font-family='"Liberation Serif", serif' font-weight="bold" fill="#111" stroke="#111" stroke-width="0.20">(d)</text>
<line x1="44.00" y1="339.60" x2="49.00" y2="339.60" stroke="#000" stroke-width="1.40"/>
<text x="43.20" y="341.50" font-size="6.90" text-anchor="end" font-family='"Liberation Serif", serif' font-weight="bold" fill="#111" stroke="#111" stroke-width="0.20">0</text>
<line x1="44.00" y1="319.10" x2="49.00" y2="319.10" stroke="#000" stroke-width="1.40"/>
<text x="43.20" y="321.00" font-size="6.90" text-anchor="end" font-family='"Liberation Serif", serif' font-weight="bold" fill="#111" stroke="#111" stroke-width="0.20">50</text>
<line x1="44.00" y1="298.60" x2="49.00" y2="298.60" stroke="#000" stroke-width="1.40"/>
<text x="43.20" y="300.50" font-size="6.90" text-anchor="end" font-family='"Liberation Serif", serif' font-weight="bold" fill="#111" stroke="#111" stroke-width="0.20">100</text>
<line x1="44.00" y1="278.10" x2="49.00" y2="278.10" stroke="#000" stroke-width="1.40"/>
<text x="43.20" y="280.00" font-size="6.90" text-anchor="end" font-family='"Liberation Serif", serif' font-weight="bold" fill="#111" stroke="#111" stroke-width="0.20">150</text>
<line x1="44.00" y1="257.60" x2="49.00" y2="257.60" stroke="#000" stroke-width="1.40"/>
<text x="43.20" y="259.50" font-size="6.90" text-anchor="end" font-family='"Liberation Serif", serif' font-weight="bold" fill="#111" stroke="#111" stroke-width="0.20">200</text>
<line x1="44.00" y1="237.10" x2="49.00" y2="237.10" stroke="#000" stroke-width="1.40"/>
<text x="43.20" y="239.00" font-size="6.90" text-anchor="end" font-family='"Liberation Serif", serif' font-weight="bold" fill="#111" stroke="#111" stroke-width="0.20">250</text>
<line x1="44.00" y1="216.60" x2="49.00" y2="216.60" stroke="#000" stroke-width="1.40"/>
<text x="43.20" y="218.50" font-size="6.90" text-anchor="end" font-family='"Liberation Serif", serif' font-weight="bold" fill="#111" stroke="#111" stroke-width="0.20">300</text>
<line x1="80.70" y1="339.50" x2="80.70" y2="345.10" stroke="#000" stroke-width="1.40"/>
<text x="80.70" y="352.60" font-size="6.90" text-anchor="middle" font-family='"Liberation Serif", serif' font-weight="bold" fill="#111" stroke="#111" stroke-width="0.20">20</text>
<line x1="114.80" y1="339.50" x2="114.80" y2="345.10" stroke="#000" stroke-width="1.40"/>
<text x="114.80" y="352.60" font-size="6.90" text-anchor="middle" font-family='"Liberation Serif", serif' font-weight="bold" fill="#111" stroke="#111" stroke-width="0.20">40</text>
<line x1="148.90" y1="339.50" x2="148.90" y2="345.10" stroke="#000" stroke-width="1.40"/>
<text x="148.90" y="352.60" font-size="6.90" text-anchor="middle" font-family='"Liberation Serif", serif' font-weight="bold" fill="#111" stroke="#111" stroke-width="0.20">60</text>
<line x1="183.00" y1="339.50" x2="183.00" y2="345.10" stroke="#000" stroke-width="1.40"/>
<text x="183.00" y="352.60" font-size="6.90" text-anchor="middle" font-family='"Liberation Serif", serif' font-weight="bold" fill="#111" stroke="#111" stroke-width="0.20">80</text>
<line x1="217.10" y1="339.50" x2="217.10" y2="345.10" stroke="#000" stroke-width="1.40"/>
<text x="217.10" y="352.60" font-size="6.90" text-anchor="middle" font-family='"Liberation Serif", serif' font-weight="bold" fill="#111" stroke="#111" stroke-width="0.20">100</text>
<text x="153.70" y="361.20" font-size="8.20" text-anchor="middle" font-family='"Liberation Serif", serif' font-weight="bold" fill="#111" textLength="59.10" lengthAdjust="spacingAndGlyphs" stroke="#111" stroke-width="0.20">Scan rate (mV/s)</text>
<text transform="translate(30.20,273.90) rotate(-90)" x="0" y="0" font-size="8.00" text-anchor="middle" font-family='"Liberation Serif", serif' font-weight="bold" fill="#111" textLength="90.20" lengthAdjust="spacingAndGlyphs" stroke="#111" stroke-width="0.20">Specific capacitance (F/g)</text>
<rect x="51.62" y="208.40" width="7.00" height="131.10" fill="url(#gd)" stroke="#111" stroke-width="1"/>
<rect x="60.15" y="247.76" width="7.00" height="91.74" fill="url(#gd)" stroke="#111" stroke-width="1"/>
<rect x="85.72" y="288.88" width="7.00" height="50.62" fill="url(#gd)" stroke="#111" stroke-width="1"/>
<rect x="128.35" y="308.44" width="7.00" height="31.06" fill="url(#gd)" stroke="#111" stroke-width="1"/>
<rect x="170.97" y="316.64" width="7.00" height="22.86" fill="url(#gd)" stroke="#111" stroke-width="1"/>
<rect x="213.60" y="318.20" width="7.00" height="21.30" fill="url(#gd)" stroke="#111" stroke-width="1"/>
<rect x="49.00" y="197.90" width="174.20" height="141.60" fill="none" stroke="#000" stroke-width="1.40"/>
<text x="233.60" y="189.60" font-size="13.20" text-anchor="start" font-family='"Liberation Serif", serif' font-weight="bold" fill="#111" stroke="#111" stroke-width="0.20">(e)</text>
<line x1="272.80" y1="338.30" x2="278.40" y2="338.30" stroke="#000" stroke-width="1.40"/>
<text x="271.20" y="340.70" font-size="7.20" text-anchor="end" font-family='"Liberation Serif", serif' font-weight="bold" fill="#111" stroke="#111" stroke-width="0.20">0</text>
<line x1="272.80" y1="316.55" x2="278.40" y2="316.55" stroke="#000" stroke-width="1.40"/>
<text x="271.20" y="318.95" font-size="7.20" text-anchor="end" font-family='"Liberation Serif", serif' font-weight="bold" fill="#111" stroke="#111" stroke-width="0.20">100</text>
<line x1="272.80" y1="294.80" x2="278.40" y2="294.80" stroke="#000" stroke-width="1.40"/>
<text x="271.20" y="297.20" font-size="7.20" text-anchor="end" font-family='"Liberation Serif", serif' font-weight="bold" fill="#111" stroke="#111" stroke-width="0.20">200</text>
<line x1="272.80" y1="273.05" x2="278.40" y2="273.05" stroke="#000" stroke-width="1.40"/>
<text x="271.20" y="275.45" font-size="7.20" text-anchor="end" font-family='"Liberation Serif", serif' font-weight="bold" fill="#111" stroke="#111" stroke-width="0.20">300</text>
<line x1="272.80" y1="251.30" x2="278.40" y2="251.30" stroke="#000" stroke-width="1.40"/>
<text x="271.20" y="253.70" font-size="7.20" text-anchor="end" font-family='"Liberation Serif", serif' font-weight="bold" fill="#111" stroke="#111" stroke-width="0.20">400</text>
<line x1="272.80" y1="229.55" x2="278.40" y2="229.55" stroke="#000" stroke-width="1.40"/>
<text x="271.20" y="231.95" font-size="7.20" text-anchor="end" font-family='"Liberation Serif", serif' font-weight="bold" fill="#111" stroke="#111" stroke-width="0.20">500</text>
<line x1="272.80" y1="207.80" x2="278.40" y2="207.80" stroke="#000" stroke-width="1.40"/>
<text x="271.20" y="210.20" font-size="7.20" text-anchor="end" font-family='"Liberation Serif", serif' font-weight="bold" fill="#111" stroke="#111" stroke-width="0.20">600</text>
<line x1="284.80" y1="338.30" x2="284.80" y2="343.90" stroke="#000" stroke-width="1.40"/>
<text x="284.80" y="351.40" font-size="7.10" text-anchor="middle" font-family='"Liberation Serif", serif' font-weight="bold" fill="#111" stroke="#111" stroke-width="0.20">0</text>
<line x1="315.50" y1="338.30" x2="315.50" y2="343.90" stroke="#000" stroke-width="1.40"/>
<text x="315.50" y="351.40" font-size="7.10" text-anchor="middle" font-family='"Liberation Serif", serif' font-weight="bold" fill="#111" stroke="#111" stroke-width="0.20">20</text>
<line x1="346.20" y1="338.30" x2="346.20" y2="343.90" stroke="#000" stroke-width="1.40"/>
<text x="346.20" y="351.40" font-size="7.10" text-anchor="middle" font-family='"Liberation Serif", serif' font-weight="bold" fill="#111" stroke="#111" stroke-width="0.20">40</text>
<line x1="376.90" y1="338.30" x2="376.90" y2="343.90" stroke="#000" stroke-width="1.40"/>
<text x="376.90" y="351.40" font-size="7.10" text-anchor="middle" font-family='"Liberation Serif", serif' font-weight="bold" fill="#111" stroke="#111" stroke-width="0.20">60</text>
<line x1="407.60" y1="338.30" x2="407.60" y2="343.90" stroke="#000" stroke-width="1.40"/>
<text x="407.60" y="351.40" font-size="7.10" text-anchor="middle" font-family='"Liberation Serif", serif' font-weight="bold" fill="#111" stroke="#111" stroke-width="0.20">80</text>
<line x1="438.30" y1="338.30" x2="438.30" y2="343.90" stroke="#000" stroke-width="1.40"/>
<text x="438.30" y="351.40" font-size="7.10" text-anchor="middle" font-family='"Liberation Serif", serif' font-weight="bold" fill="#111" stroke="#111" stroke-width="0.20">100</text>
<text x="369.40" y="358.80" font-size="8.00" text-anchor="middle" font-family='"Liberation Serif", serif' font-weight="bold" fill="#111" textLength="56.00" lengthAdjust="spacingAndGlyphs" stroke="#111" stroke-width="0.20">Scan rate(mV/s)</text>
<text transform="translate(257.30,266.00) rotate(-90)" x="0" y="0" font-size="8.00" text-anchor="middle" font-family='"Liberation Serif", serif' font-weight="bold" fill="#111" textLength="92.80" lengthAdjust="spacingAndGlyphs" stroke="#111" stroke-width="0.20">Specific capacitance (F/g)</text>
<rect x="289.38" y="206.93" width="6.20" height="131.37" fill="url(#ge)" stroke="#111" stroke-width="0.8"/>
<rect x="297.05" y="228.46" width="6.20" height="109.84" fill="url(#ge)" stroke="#111" stroke-width="0.8"/>
<rect x="320.07" y="238.90" width="6.20" height="99.40" fill="url(#ge)" stroke="#111" stroke-width="0.8"/>
<rect x="358.45" y="244.12" width="6.20" height="94.18" fill="url(#ge)" stroke="#111" stroke-width="0.8"/>
<rect x="396.82" y="246.30" width="6.20" height="92.00" fill="url(#ge)" stroke="#111" stroke-width="0.8"/>
<rect x="435.20" y="246.95" width="6.20" height="91.35" fill="url(#ge)" stroke="#111" stroke-width="0.8"/>
<rect x="278.40" y="196.70" width="174.40" height="141.60" fill="none" stroke="#000" stroke-width="1.40"/>
<text x="474.40" y="188.80" font-size="13.20" text-anchor="start" font-family='"Liberation Serif", serif' font-weight="normal" fill="#111" stroke="#111" stroke-width="0.10">(f)</text>
<line x1="494.50" y1="338.70" x2="499.30" y2="338.70" stroke="#000" stroke-width="1.40"/>
<text x="492.20" y="341.10" font-size="7.20" text-anchor="end" font-family='"Liberation Serif", serif' font-weight="bold" fill="#111" stroke="#111" stroke-width="0.20">0</text>
<line x1="494.50" y1="318.20" x2="499.30" y2="318.20" stroke="#000" stroke-width="1.40"/>
<text x="492.20" y="320.60" font-size="7.20" text-anchor="end" font-family='"Liberation Serif", serif' font-weight="bold" fill="#111" stroke="#111" stroke-width="0.20">100</text>
<line x1="494.50" y1="297.70" x2="499.30" y2="297.70" stroke="#000" stroke-width="1.40"/>
<text x="492.20" y="300.10" font-size="7.20" text-anchor="end" font-family='"Liberation Serif", serif' font-weight="bold" fill="#111" stroke="#111" stroke-width="0.20">200</text>
<line x1="494.50" y1="277.20" x2="499.30" y2="277.20" stroke="#000" stroke-width="1.40"/>
<text x="492.20" y="279.60" font-size="7.20" text-anchor="end" font-family='"Liberation Serif", serif' font-weight="bold" fill="#111" stroke="#111" stroke-width="0.20">300</text>
<line x1="494.50" y1="256.70" x2="499.30" y2="256.70" stroke="#000" stroke-width="1.40"/>
<text x="492.20" y="259.10" font-size="7.20" text-anchor="end" font-family='"Liberation Serif", serif' font-weight="bold" fill="#111" stroke="#111" stroke-width="0.20">400</text>
<line x1="494.50" y1="236.20" x2="499.30" y2="236.20" stroke="#000" stroke-width="1.40"/>
<text x="492.20" y="238.60" font-size="7.20" text-anchor="end" font-family='"Liberation Serif", serif' font-weight="bold" fill="#111" stroke="#111" stroke-width="0.20">500</text>
<line x1="494.50" y1="215.70" x2="499.30" y2="215.70" stroke="#000" stroke-width="1.40"/>
<text x="492.20" y="218.10" font-size="7.20" text-anchor="end" font-family='"Liberation Serif", serif' font-weight="bold" fill="#111" stroke="#111" stroke-width="0.20">600</text>
<line x1="506.00" y1="338.60" x2="506.00" y2="344.40" stroke="#000" stroke-width="1.40"/>
<text x="506.00" y="352.00" font-size="7.20" text-anchor="middle" font-family='"Liberation Serif", serif' font-weight="bold" fill="#111" stroke="#111" stroke-width="0.20">0</text>
<line x1="537.00" y1="338.60" x2="537.00" y2="344.40" stroke="#000" stroke-width="1.40"/>
<text x="537.00" y="352.00" font-size="7.20" text-anchor="middle" font-family='"Liberation Serif", serif' font-weight="bold" fill="#111" stroke="#111" stroke-width="0.20">20</text>
<line x1="568.00" y1="338.60" x2="568.00" y2="344.40" stroke="#000" stroke-width="1.40"/>
<text x="568.00" y="352.00" font-size="7.20" text-anchor="middle" font-family='"Liberation Serif", serif' font-weight="bold" fill="#111" stroke="#111" stroke-width="0.20">40</text>
<line x1="599.00" y1="338.60" x2="599.00" y2="344.40" stroke="#000" stroke-width="1.40"/>
<text x="599.00" y="352.00" font-size="7.20" text-anchor="middle" font-family='"Liberation Serif", serif' font-weight="bold" fill="#111" stroke="#111" stroke-width="0.20">60</text>
<line x1="630.00" y1="338.60" x2="630.00" y2="344.40" stroke="#000" stroke-width="1.40"/>
<text x="630.00" y="352.00" font-size="7.20" text-anchor="middle" font-family='"Liberation Serif", serif' font-weight="bold" fill="#111" stroke="#111" stroke-width="0.20">80</text>
<line x1="661.00" y1="338.60" x2="661.00" y2="344.40" stroke="#000" stroke-width="1.40"/>
<text x="661.00" y="352.00" font-size="7.20" text-anchor="middle" font-family='"Liberation Serif", serif' font-weight="bold" fill="#111" stroke="#111" stroke-width="0.20">100</text>
<text x="592.20" y="361.90" font-size="8.00" text-anchor="middle" font-family='"Liberation Serif", serif' font-weight="bold" fill="#111" textLength="56.20" lengthAdjust="spacingAndGlyphs" stroke="#111" stroke-width="0.20">Scan rate(mV/s)</text>
<text transform="translate(475.90,266.60) rotate(-90)" x="0" y="0" font-size="7.40" text-anchor="middle" font-family='"Liberation Serif", serif' font-weight="bold" fill="#111" textLength="84.00" lengthAdjust="spacingAndGlyphs" stroke="#111" stroke-width="0.20">Specific capacitance (F/g)</text>
<rect x="510.85" y="206.47" width="5.80" height="132.13" fill="url(#gf)" stroke="#000060" stroke-width="0.4"/>
<rect x="518.60" y="227.80" width="5.80" height="110.81" fill="url(#gf)" stroke="#000060" stroke-width="0.4"/>
<rect x="541.85" y="252.39" width="5.80" height="86.21" fill="url(#gf)" stroke="#000060" stroke-width="0.4"/>
<rect x="580.60" y="273.51" width="5.80" height="65.09" fill="url(#gf)" stroke="#000060" stroke-width="0.4"/>
<rect x="619.35" y="286.83" width="5.80" height="51.77" fill="url(#gf)" stroke="#000060" stroke-width="0.4"/>
<rect x="658.10" y="294.01" width="5.80" height="44.59" fill="url(#gf)" stroke="#000060" stroke-width="0.4"/>
<rect x="499.30" y="196.00" width="175.80" height="142.60" fill="none" stroke="#000" stroke-width="1.40"/>
</svg></body></html>
